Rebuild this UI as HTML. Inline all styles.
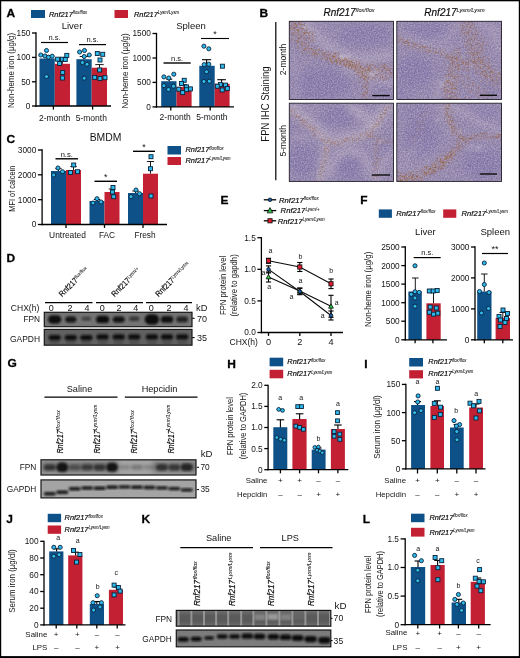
<!DOCTYPE html>
<html lang="en"><head><meta charset="utf-8"><title>Figure</title>
<style>html,body{margin:0;padding:0;background:#fff}svg{display:block}text{font-family:'Liberation Sans', sans-serif;}</style></head>
<body>
<svg style="will-change:transform" width="520" height="658" viewBox="0 0 520 658">
<defs>
<filter id="grain" x="-2%" y="-2%" width="104%" height="104%" color-interpolation-filters="sRGB"><feTurbulence type="fractalNoise" baseFrequency="0.7" numOctaves="2" seed="7" result="n"/><feColorMatrix in="n" type="matrix" values="0 0 0 0 0.42  0 0 0 0 0.35  0 0 0 0 0.56  1.1 0 0 0 -0.42" result="dk"/><feColorMatrix in="n" type="matrix" values="0 0 0 0 0.83  0 0 0 0 0.78  0 0 0 0 0.84  0 1.1 0 0 -0.42" result="lt"/><feMerge><feMergeNode in="SourceGraphic"/><feMergeNode in="dk"/><feMergeNode in="lt"/></feMerge></filter>
<filter id="speck" x="-20%" y="-20%" width="140%" height="140%" color-interpolation-filters="sRGB"><feGaussianBlur in="SourceGraphic" stdDeviation="2.3" result="bl"/><feTurbulence type="fractalNoise" baseFrequency="0.5" numOctaves="2" seed="11" result="nz"/><feColorMatrix in="nz" type="matrix" values="0 0 0 0 1  0 0 0 0 1  0 0 0 0 1  0 0 0 6 -3.05" result="mk"/><feComposite in="bl" in2="mk" operator="in" result="sp"/><feGaussianBlur in="sp" stdDeviation="0.35"/></filter>
<filter id="soft" x="-2%" y="-2%" width="104%" height="104%"><feGaussianBlur stdDeviation="0.7"/></filter>
<filter id="b05" x="-30%" y="-30%" width="160%" height="160%"><feGaussianBlur stdDeviation="0.35"/></filter>
<filter id="b1" x="-30%" y="-30%" width="160%" height="160%"><feGaussianBlur stdDeviation="1.0"/></filter>
<filter id="bb" x="-30%" y="-30%" width="160%" height="160%"><feGaussianBlur stdDeviation="0.8"/></filter>
<filter id="b2" x="-30%" y="-30%" width="160%" height="160%"><feGaussianBlur stdDeviation="2.0"/></filter>
<filter id="b3" x="-30%" y="-30%" width="160%" height="160%"><feGaussianBlur stdDeviation="3.0"/></filter>
<filter id="b4" x="-30%" y="-30%" width="160%" height="160%"><feGaussianBlur stdDeviation="4.5"/></filter>
</defs>
<rect x="0" y="0" width="520" height="658" fill="#ffffff"/>
<text transform="translate(6.5 17.4) scale(1.16 1)" font-size="10.3" text-anchor="start" font-weight="bold" font-style="normal" fill="#000" stroke="#000" stroke-width="0.25">A</text>
<rect x="31" y="10" width="14" height="8" fill="#0e5188"/>
<text transform="translate(49 16.5) scale(0.95 1)" font-size="7.8" text-anchor="start" font-weight="normal" font-style="italic" fill="#0a0a0a" stroke="#0a0a0a" stroke-width="0.18">Rnf217<tspan font-size="4.45" dy="-2.65" stroke-width="0.05">flox/flox</tspan></text>
<rect x="114.5" y="10" width="13.5" height="8" fill="#c32033"/>
<text transform="translate(134 16.5) scale(0.95 1)" font-size="7.8" text-anchor="start" font-weight="normal" font-style="italic" fill="#0a0a0a" stroke="#0a0a0a" stroke-width="0.18">Rnf217<tspan font-size="4.45" dy="-2.65" stroke-width="0.05">Lysm/Lysm</tspan></text>
<text transform="translate(72 29)" font-size="9.5" text-anchor="middle" font-weight="normal" font-style="normal" fill="#141414">Liver</text>
<line x1="36" y1="32.35" x2="36" y2="106.65" stroke="#000000" stroke-width="1.3" stroke-linecap="butt"/>
<line x1="32" y1="33" x2="36" y2="33" stroke="#000000" stroke-width="1.3" stroke-linecap="butt"/>
<text transform="translate(30.4 35.99) scale(1 1)" font-size="8.3" text-anchor="end" font-weight="normal" font-style="normal" fill="#141414">150</text>
<line x1="32" y1="57.4" x2="36" y2="57.4" stroke="#000000" stroke-width="1.3" stroke-linecap="butt"/>
<text transform="translate(30.4 60.39) scale(1 1)" font-size="8.3" text-anchor="end" font-weight="normal" font-style="normal" fill="#141414">100</text>
<line x1="32" y1="81.8" x2="36" y2="81.8" stroke="#000000" stroke-width="1.3" stroke-linecap="butt"/>
<text transform="translate(30.4 84.79) scale(1 1)" font-size="8.3" text-anchor="end" font-weight="normal" font-style="normal" fill="#141414">50</text>
<line x1="32" y1="106" x2="36" y2="106" stroke="#000000" stroke-width="1.3" stroke-linecap="butt"/>
<text transform="translate(30.4 108.99) scale(1 1)" font-size="8.3" text-anchor="end" font-weight="normal" font-style="normal" fill="#141414">0</text>
<text transform="translate(13.5 70.5) rotate(-90) scale(0.92 1)" font-size="8.6" text-anchor="middle" font-weight="normal" font-style="normal" fill="#141414">Non-heme iron (µg/g)</text>
<rect x="39.5" y="58.5" width="15.3" height="47.5" fill="#0e5188"/>
<rect x="54.8" y="63.8" width="15.2" height="42.2" fill="#c32033"/>
<rect x="76.4" y="59.2" width="15.3" height="46.8" fill="#0e5188"/>
<rect x="91.7" y="67.7" width="15.3" height="38.3" fill="#c32033"/>
<line x1="35.35" y1="106" x2="111" y2="106" stroke="#000000" stroke-width="1.3" stroke-linecap="butt"/>
<line x1="53.4" y1="106" x2="53.4" y2="109.6" stroke="#000000" stroke-width="1.3" stroke-linecap="butt"/>
<line x1="92.6" y1="106" x2="92.6" y2="109.6" stroke="#000000" stroke-width="1.3" stroke-linecap="butt"/>
<text transform="translate(54.6 120.9)" font-size="8.5" text-anchor="middle" font-weight="normal" font-style="normal" fill="#141414">2-month</text>
<text transform="translate(91.3 120.9)" font-size="8.5" text-anchor="middle" font-weight="normal" font-style="normal" fill="#141414">5-month</text>
<line x1="47" y1="56" x2="47" y2="58.5" stroke="#000000" stroke-width="0.9" stroke-linecap="butt"/>
<line x1="43.8" y1="56" x2="50.2" y2="56" stroke="#000000" stroke-width="0.9" stroke-linecap="butt"/>
<line x1="62.4" y1="60.5" x2="62.4" y2="63.8" stroke="#000000" stroke-width="0.9" stroke-linecap="butt"/>
<line x1="59.2" y1="60.5" x2="65.6" y2="60.5" stroke="#000000" stroke-width="0.9" stroke-linecap="butt"/>
<line x1="84.2" y1="56.5" x2="84.2" y2="59.2" stroke="#000000" stroke-width="0.9" stroke-linecap="butt"/>
<line x1="79.7" y1="56.5" x2="88.7" y2="56.5" stroke="#000000" stroke-width="0.9" stroke-linecap="butt"/>
<line x1="99.5" y1="64.6" x2="99.5" y2="67.7" stroke="#000000" stroke-width="0.9" stroke-linecap="butt"/>
<line x1="95.3" y1="64.6" x2="103.7" y2="64.6" stroke="#000000" stroke-width="0.9" stroke-linecap="butt"/>
<circle cx="46.5" cy="50.5" r="2.05" fill="#2fb8ea" stroke="#07223a" stroke-width="0.9"/>
<circle cx="40.8" cy="55" r="2.05" fill="#2fb8ea" stroke="#07223a" stroke-width="0.9"/>
<circle cx="45" cy="56" r="2.05" fill="#2fb8ea" stroke="#07223a" stroke-width="0.9"/>
<circle cx="48.5" cy="57.2" r="2.05" fill="#2fb8ea" stroke="#07223a" stroke-width="0.9"/>
<circle cx="52.2" cy="56.2" r="2.05" fill="#2fb8ea" stroke="#07223a" stroke-width="0.9"/>
<circle cx="46.5" cy="76.6" r="2.05" fill="#2fb8ea" stroke="#07223a" stroke-width="0.9"/>
<rect x="64.8" y="53.4" width="4" height="4" fill="#2fb8ea" stroke="#07223a" stroke-width="0.9"/>
<rect x="55.6" y="57.2" width="4" height="4" fill="#2fb8ea" stroke="#07223a" stroke-width="0.9"/>
<rect x="60.4" y="57.2" width="4" height="4" fill="#2fb8ea" stroke="#07223a" stroke-width="0.9"/>
<rect x="63.3" y="57.5" width="4" height="4" fill="#2fb8ea" stroke="#07223a" stroke-width="0.9"/>
<rect x="57.6" y="61.5" width="4" height="4" fill="#2fb8ea" stroke="#07223a" stroke-width="0.9"/>
<rect x="60.7" y="70.6" width="4" height="4" fill="#2fb8ea" stroke="#07223a" stroke-width="0.9"/>
<rect x="60.4" y="76" width="4" height="4" fill="#2fb8ea" stroke="#07223a" stroke-width="0.9"/>
<circle cx="79.6" cy="52" r="2.05" fill="#2fb8ea" stroke="#07223a" stroke-width="0.9"/>
<circle cx="84.5" cy="50.5" r="2.05" fill="#2fb8ea" stroke="#07223a" stroke-width="0.9"/>
<circle cx="89.3" cy="55" r="2.05" fill="#2fb8ea" stroke="#07223a" stroke-width="0.9"/>
<circle cx="84.2" cy="56.5" r="2.05" fill="#2fb8ea" stroke="#07223a" stroke-width="0.9"/>
<circle cx="82.4" cy="62.6" r="2.05" fill="#2fb8ea" stroke="#07223a" stroke-width="0.9"/>
<circle cx="87" cy="64.3" r="2.05" fill="#2fb8ea" stroke="#07223a" stroke-width="0.9"/>
<circle cx="84.2" cy="78.2" r="2.05" fill="#2fb8ea" stroke="#07223a" stroke-width="0.9"/>
<rect x="95.3" y="51.5" width="4" height="4" fill="#2fb8ea" stroke="#07223a" stroke-width="0.9"/>
<rect x="100.7" y="52.3" width="4" height="4" fill="#2fb8ea" stroke="#07223a" stroke-width="0.9"/>
<rect x="98" y="58" width="4" height="4" fill="#2fb8ea" stroke="#07223a" stroke-width="0.9"/>
<rect x="97.6" y="68" width="4" height="4" fill="#2fb8ea" stroke="#07223a" stroke-width="0.9"/>
<rect x="92.7" y="75.4" width="4" height="4" fill="#2fb8ea" stroke="#07223a" stroke-width="0.9"/>
<rect x="98" y="76.5" width="4" height="4" fill="#2fb8ea" stroke="#07223a" stroke-width="0.9"/>
<rect x="103" y="75.7" width="4" height="4" fill="#2fb8ea" stroke="#07223a" stroke-width="0.9"/>
<line x1="41" y1="42.5" x2="68" y2="42.5" stroke="#000000" stroke-width="1.2" stroke-linecap="butt"/>
<text transform="translate(54.5 40.3)" font-size="7.5" text-anchor="middle" font-weight="normal" font-style="normal" fill="#141414">n.s.</text>
<line x1="79" y1="44.6" x2="106" y2="44.6" stroke="#000000" stroke-width="1.2" stroke-linecap="butt"/>
<text transform="translate(92.5 42.4)" font-size="7.5" text-anchor="middle" font-weight="normal" font-style="normal" fill="#141414">n.s.</text>
<text transform="translate(191 29)" font-size="9.5" text-anchor="middle" font-weight="normal" font-style="normal" fill="#141414">Spleen</text>
<line x1="156.5" y1="32.85" x2="156.5" y2="107.55" stroke="#000000" stroke-width="1.3" stroke-linecap="butt"/>
<line x1="152.5" y1="33.5" x2="156.5" y2="33.5" stroke="#000000" stroke-width="1.3" stroke-linecap="butt"/>
<text transform="translate(150.9 36.49) scale(1 1)" font-size="8.3" text-anchor="end" font-weight="normal" font-style="normal" fill="#141414">1500</text>
<line x1="152.5" y1="58" x2="156.5" y2="58" stroke="#000000" stroke-width="1.3" stroke-linecap="butt"/>
<text transform="translate(150.9 60.99) scale(1 1)" font-size="8.3" text-anchor="end" font-weight="normal" font-style="normal" fill="#141414">1000</text>
<line x1="152.5" y1="82.4" x2="156.5" y2="82.4" stroke="#000000" stroke-width="1.3" stroke-linecap="butt"/>
<text transform="translate(150.9 85.39) scale(1 1)" font-size="8.3" text-anchor="end" font-weight="normal" font-style="normal" fill="#141414">500</text>
<line x1="152.5" y1="106.9" x2="156.5" y2="106.9" stroke="#000000" stroke-width="1.3" stroke-linecap="butt"/>
<text transform="translate(150.9 109.89) scale(1 1)" font-size="8.3" text-anchor="end" font-weight="normal" font-style="normal" fill="#141414">0</text>
<text transform="translate(128.3 71) rotate(-90) scale(0.92 1)" font-size="8.6" text-anchor="middle" font-weight="normal" font-style="normal" fill="#141414">Non-heme iron (µg/g)</text>
<rect x="161.2" y="81.2" width="15.3" height="25.7" fill="#0e5188"/>
<rect x="176.5" y="86.9" width="15.1" height="20" fill="#c32033"/>
<rect x="199.3" y="65.8" width="15.4" height="41.1" fill="#0e5188"/>
<rect x="214.7" y="83.8" width="14.9" height="23.1" fill="#c32033"/>
<line x1="155.85" y1="106.9" x2="234" y2="106.9" stroke="#000000" stroke-width="1.3" stroke-linecap="butt"/>
<line x1="170.8" y1="106.9" x2="170.8" y2="110.5" stroke="#000000" stroke-width="1.3" stroke-linecap="butt"/>
<line x1="210.2" y1="106.9" x2="210.2" y2="110.5" stroke="#000000" stroke-width="1.3" stroke-linecap="butt"/>
<text transform="translate(175.2 119.7)" font-size="8.5" text-anchor="middle" font-weight="normal" font-style="normal" fill="#141414">2-month</text>
<text transform="translate(211.9 119.7)" font-size="8.5" text-anchor="middle" font-weight="normal" font-style="normal" fill="#141414">5-month</text>
<line x1="169.2" y1="79.2" x2="169.2" y2="81.2" stroke="#000000" stroke-width="1.1" stroke-linecap="butt"/>
<line x1="166.2" y1="79.2" x2="172.2" y2="79.2" stroke="#000000" stroke-width="1.1" stroke-linecap="butt"/>
<line x1="184" y1="84.8" x2="184" y2="86.9" stroke="#000000" stroke-width="1.1" stroke-linecap="butt"/>
<line x1="181" y1="84.8" x2="187" y2="84.8" stroke="#000000" stroke-width="1.1" stroke-linecap="butt"/>
<line x1="206.6" y1="59.7" x2="206.6" y2="65.8" stroke="#000000" stroke-width="1.1" stroke-linecap="butt"/>
<line x1="202" y1="59.7" x2="211.2" y2="59.7" stroke="#000000" stroke-width="1.1" stroke-linecap="butt"/>
<line x1="221.6" y1="79.7" x2="221.6" y2="83.8" stroke="#000000" stroke-width="1.1" stroke-linecap="butt"/>
<line x1="217.3" y1="79.7" x2="225.9" y2="79.7" stroke="#000000" stroke-width="1.1" stroke-linecap="butt"/>
<circle cx="163.9" cy="76.9" r="2.05" fill="#2fb8ea" stroke="#07223a" stroke-width="0.9"/>
<circle cx="168.8" cy="78" r="2.05" fill="#2fb8ea" stroke="#07223a" stroke-width="0.9"/>
<circle cx="173.8" cy="74.2" r="2.05" fill="#2fb8ea" stroke="#07223a" stroke-width="0.9"/>
<circle cx="163.9" cy="85.7" r="2.05" fill="#2fb8ea" stroke="#07223a" stroke-width="0.9"/>
<circle cx="173.5" cy="86.2" r="2.05" fill="#2fb8ea" stroke="#07223a" stroke-width="0.9"/>
<circle cx="168.5" cy="89.5" r="2.05" fill="#2fb8ea" stroke="#07223a" stroke-width="0.9"/>
<rect x="182.2" y="78.3" width="4" height="4" fill="#2fb8ea" stroke="#07223a" stroke-width="0.9"/>
<rect x="179.5" y="81.5" width="4" height="4" fill="#2fb8ea" stroke="#07223a" stroke-width="0.9"/>
<rect x="184.5" y="84.9" width="4" height="4" fill="#2fb8ea" stroke="#07223a" stroke-width="0.9"/>
<rect x="176.8" y="87.2" width="4" height="4" fill="#2fb8ea" stroke="#07223a" stroke-width="0.9"/>
<rect x="184.5" y="87.7" width="4" height="4" fill="#2fb8ea" stroke="#07223a" stroke-width="0.9"/>
<rect x="188.4" y="86.9" width="4" height="4" fill="#2fb8ea" stroke="#07223a" stroke-width="0.9"/>
<rect x="180.7" y="90.6" width="4" height="4" fill="#2fb8ea" stroke="#07223a" stroke-width="0.9"/>
<circle cx="203.9" cy="46.2" r="2.05" fill="#2fb8ea" stroke="#07223a" stroke-width="0.9"/>
<circle cx="208.8" cy="48.8" r="2.05" fill="#2fb8ea" stroke="#07223a" stroke-width="0.9"/>
<circle cx="204.2" cy="64.6" r="2.05" fill="#2fb8ea" stroke="#07223a" stroke-width="0.9"/>
<circle cx="208.8" cy="64.2" r="2.05" fill="#2fb8ea" stroke="#07223a" stroke-width="0.9"/>
<circle cx="206.5" cy="71.8" r="2.05" fill="#2fb8ea" stroke="#07223a" stroke-width="0.9"/>
<circle cx="203.9" cy="81.5" r="2.05" fill="#2fb8ea" stroke="#07223a" stroke-width="0.9"/>
<circle cx="209.3" cy="81.2" r="2.05" fill="#2fb8ea" stroke="#07223a" stroke-width="0.9"/>
<rect x="220.4" y="64.2" width="4" height="4" fill="#2fb8ea" stroke="#07223a" stroke-width="0.9"/>
<rect x="218.4" y="82.6" width="4" height="4" fill="#2fb8ea" stroke="#07223a" stroke-width="0.9"/>
<rect x="223.5" y="83.1" width="4" height="4" fill="#2fb8ea" stroke="#07223a" stroke-width="0.9"/>
<rect x="215.3" y="84.2" width="4" height="4" fill="#2fb8ea" stroke="#07223a" stroke-width="0.9"/>
<rect x="225.3" y="86.5" width="4" height="4" fill="#2fb8ea" stroke="#07223a" stroke-width="0.9"/>
<rect x="220.2" y="88" width="4" height="4" fill="#2fb8ea" stroke="#07223a" stroke-width="0.9"/>
<line x1="163.5" y1="63" x2="190.7" y2="63" stroke="#000000" stroke-width="1.4" stroke-linecap="butt"/>
<text transform="translate(177.1 60.8)" font-size="7.5" text-anchor="middle" font-weight="normal" font-style="normal" fill="#141414">n.s.</text>
<line x1="201" y1="38.5" x2="229" y2="38.5" stroke="#000000" stroke-width="1.1" stroke-linecap="butt"/>
<text transform="translate(215 37.3)" font-size="9" text-anchor="middle" font-weight="normal" font-style="normal" fill="#141414">*</text>
<text transform="translate(259.5 17.1) scale(1.16 1)" font-size="10.3" text-anchor="start" font-weight="bold" font-style="normal" fill="#000" stroke="#000" stroke-width="0.25">B</text>
<text transform="translate(349 16.3) scale(0.95 1)" font-size="10.5" text-anchor="middle" font-weight="normal" font-style="italic" fill="#0a0a0a" stroke="#0a0a0a" stroke-width="0.18">Rnf217<tspan font-size="5.9" dy="-4.2" stroke-width="0.05">flox/flox</tspan></text>
<text transform="translate(454.5 16.3) scale(0.95 1)" font-size="10.5" text-anchor="middle" font-weight="normal" font-style="italic" fill="#0a0a0a" stroke="#0a0a0a" stroke-width="0.18">Rnf217<tspan font-size="5.9" dy="-4.2" stroke-width="0.05">Lysm/Lysm</tspan></text>
<line x1="275.8" y1="22" x2="275.8" y2="180.3" stroke="#000000" stroke-width="1.2" stroke-linecap="butt"/>
<text transform="translate(268.6 104) rotate(-90) scale(0.95 1)" font-size="10.05" text-anchor="middle" font-weight="normal" font-style="normal" fill="#141414">FPN IHC Staining</text>
<text transform="translate(286.3 59.5) rotate(-90)" font-size="8.6" text-anchor="middle" font-weight="normal" font-style="normal" fill="#141414">2-month</text>
<text transform="translate(286.3 140.8) rotate(-90)" font-size="8.6" text-anchor="middle" font-weight="normal" font-style="normal" fill="#141414">5-month</text>
<clipPath id="hc1"><rect x="289.3" y="21.3" width="104.2" height="78.2"/></clipPath>
<g clip-path="url(#hc1)">
<g filter="url(#soft)">
<g filter="url(#grain)">
<rect x="287.3" y="19.3" width="108.2" height="82.2" fill="#9489ae"/>
<ellipse cx="322" cy="84" rx="28" ry="16" fill="#8378ab" opacity="0.8" filter="url(#b4)"/>
<ellipse cx="365" cy="34" rx="26" ry="12" fill="#8378ab" opacity="0.7" filter="url(#b4)"/>
<ellipse cx="385" cy="92" rx="8" ry="8" fill="#8378ab" opacity="0.6" filter="url(#b4)"/>
<path d="M305 24 L320 40 L342 54 L360 60 L392 55" fill="none" stroke="#c0b6c8" stroke-width="10" stroke-linecap="round" stroke-linejoin="round" opacity="0.48" filter="url(#b3)"/>
<path d="M345 60 L356 58" fill="none" stroke="#c0b6c8" stroke-width="7" stroke-linecap="round" stroke-linejoin="round" opacity="0.48" filter="url(#b3)"/>
<path d="M345 68 L372 77 L392 84" fill="none" stroke="#c0b6c8" stroke-width="8" stroke-linecap="round" stroke-linejoin="round" opacity="0.4" filter="url(#b3)"/>
<path d="M372 77 L372 99" fill="none" stroke="#c0b6c8" stroke-width="7" stroke-linecap="round" stroke-linejoin="round" opacity="0.36" filter="url(#b3)"/>
<path d="M292 60 L300 80 L296 98" fill="none" stroke="#c0b6c8" stroke-width="6" stroke-linecap="round" stroke-linejoin="round" opacity="0.24" filter="url(#b3)"/>
<path d="M291 24 L297.7 39 L305 47 L312.5 52 L333.7 58 L348.5 63.5 L363 68.8 L380 67.7 L392 69" fill="none" stroke="#a98474" stroke-width="7" stroke-linecap="round" stroke-linejoin="round" opacity="0.25" filter="url(#b2)"/>
<path d="M291 24 L297.7 39 L305 47 L312.5 52 L333.7 58 L348.5 63.5 L363 68.8 L380 67.7 L392 69" fill="none" stroke="#98643f" stroke-width="8.05" stroke-linecap="round" stroke-linejoin="round" opacity="0.72" filter="url(#speck)"/>
<path d="M322.12 53.46h1.55v1.55h-1.55zM325.93 56.14h1.67v1.67h-1.67zM296.56 42.12h1.22v1.22h-1.22zM369.02 69.29h1.27v1.27h-1.27zM296.63 29.08h0.9v0.9h-0.9zM300.12 27.05h1.24v1.24h-1.24zM349.86 62.93h1.2v1.2h-1.2zM290.04 24.79h1.31v1.31h-1.31zM301.51 43.91h0.73v0.73h-0.73zM324.35 58.38h1.67v1.67h-1.67zM333.92 55.81h1.22v1.22h-1.22zM349.84 65.14h1.1v1.1h-1.1zM396.72 68.06h1.5v1.5h-1.5zM356.28 68.25h1.26v1.26h-1.26zM314.88 52.49h1.19v1.19h-1.19zM324.3 51.93h1.39v1.39h-1.39zM386.73 68h0.77v0.77h-0.77zM305.64 42.82h1.24v1.24h-1.24zM388.19 68.89h1.11v1.11h-1.11zM348.64 60.53h1.66v1.66h-1.66zM290.57 39.35h1.62v1.62h-1.62zM364.58 69.81h0.97v0.97h-0.97zM300.29 36.33h1.17v1.17h-1.17zM297.38 40.83h0.83v0.83h-0.83zM301.13 41.43h1.13v1.13h-1.13zM352.21 65.62h1.52v1.52h-1.52zM301.86 52.64h1.6v1.6h-1.6zM366.1 73.72h1.18v1.18h-1.18zM298.33 48.45h1.02v1.02h-1.02zM357.28 69.09h0.89v0.89h-0.89zM302.75 50.05h1.32v1.32h-1.32zM314 53.06h1.63v1.63h-1.63zM293 32.24h0.83v0.83h-0.83zM342.89 64.18h1.48v1.48h-1.48zM382.92 68.52h0.72v0.72h-0.72zM376.51 69.08h0.89v0.89h-0.89zM381.67 65.3h0.93v0.93h-0.93zM300.64 35.7h1.39v1.39h-1.39zM307.74 41.67h1.02v1.02h-1.02zM344.4 62.77h1.06v1.06h-1.06zM294.37 27.02h1.32v1.32h-1.32zM356.77 71.94h0.8v0.8h-0.8zM344.16 63.42h1.43v1.43h-1.43zM360.73 67.9h0.82v0.82h-0.82zM343.13 56.89h1.21v1.21h-1.21zM311.26 48.84h0.95v0.95h-0.95zM290.96 28.58h0.9v0.9h-0.9zM294.6 32.51h1.23v1.23h-1.23zM344.03 62.86h1.14v1.14h-1.14zM382.95 66.68h1.08v1.08h-1.08zM353.95 64.82h1.11v1.11h-1.11zM298.63 27.92h1.23v1.23h-1.23zM357.19 66.04h0.86v0.86h-0.86zM344.52 64.06h0.9v0.9h-0.9zM314.52 51.75h1.33v1.33h-1.33zM338.58 53.17h1.34v1.34h-1.34zM358.9 62.37h1.23v1.23h-1.23zM378.48 70.8h1.55v1.55h-1.55zM381.8 64.82h1.31v1.31h-1.31zM369.03 64.79h1.56v1.56h-1.56zM345.15 65.72h0.93v0.93h-0.93zM349.79 64.2h1.44v1.44h-1.44zM393.98 64.84h1.51v1.51h-1.51zM320.77 49.93h1.6v1.6h-1.6zM328.04 54.78h1.02v1.02h-1.02zM365.99 68.87h1.01v1.01h-1.01zM332.27 61.46h1.62v1.62h-1.62zM328.81 53.33h0.92v0.92h-0.92zM309.26 48.05h1.7v1.7h-1.7zM354.22 66.64h1.59v1.59h-1.59zM378.73 64.64h0.83v0.83h-0.83zM376.69 71.21h0.94v0.94h-0.94zM296.86 45.83h1.43v1.43h-1.43zM383.56 65.4h0.96v0.96h-0.96zM342.84 62.87h0.8v0.8h-0.8zM336.53 52.46h1.53v1.53h-1.53zM359.89 65.72h1.12v1.12h-1.12zM297.11 41.68h1.49v1.49h-1.49zM299.73 47.38h0.83v0.83h-0.83zM331.13 62.81h1.1v1.1h-1.1zM388.06 68.43h1.39v1.39h-1.39zM292.77 26.43h0.72v0.72h-0.72zM355.09 65.37h0.9v0.9h-0.9zM368.28 68.02h1.38v1.38h-1.38zM334.29 56.88h1.61v1.61h-1.61zM305.51 47.39h1.67v1.67h-1.67zM344.62 64.68h0.82v0.82h-0.82zM353.97 57.06h1.21v1.21h-1.21zM355.52 68.45h1.46v1.46h-1.46zM303.7 42.15h1.2v1.2h-1.2zM358.83 68.62h1.39v1.39h-1.39zM315.44 49.41h0.89v0.89h-0.89zM347.11 59.7h0.77v0.77h-0.77zM368.07 67.4h0.81v0.81h-0.81zM383.41 66.21h0.74v0.74h-0.74zM324.11 51.48h1.25v1.25h-1.25zM314.4 51.1h1.21v1.21h-1.21zM370.5 66.69h1.27v1.27h-1.27zM352.4 68.78h0.85v0.85h-0.85zM367.09 64.16h0.88v0.88h-0.88zM310.04 40.16h0.9v0.9h-0.9zM383.4 66.72h1.54v1.54h-1.54zM318.31 48.46h1.69v1.69h-1.69zM319.38 54.18h1.63v1.63h-1.63zM340.24 56.59h0.8v0.8h-0.8zM292.39 25.68h0.76v0.76h-0.76zM368.79 70.03h1.65v1.65h-1.65zM367.43 69.28h1.16v1.16h-1.16zM334.81 52.64h1.46v1.46h-1.46zM358.5 64.46h1.03v1.03h-1.03zM387.24 68.86h1.17v1.17h-1.17zM335.8 63.54h1.22v1.22h-1.22zM343.81 62.69h1.13v1.13h-1.13zM339.56 62.9h1.3v1.3h-1.3zM375.03 66.55h0.71v0.71h-0.71z" fill="#93603c" opacity="0.56" filter="url(#b05)"/>
<path d="M363 69 L366 80 L365.4 88 L367.5 99" fill="none" stroke="#a98474" stroke-width="5" stroke-linecap="round" stroke-linejoin="round" opacity="0.21" filter="url(#b2)"/>
<path d="M363 69 L366 80 L365.4 88 L367.5 99" fill="none" stroke="#98643f" stroke-width="5.75" stroke-linecap="round" stroke-linejoin="round" opacity="0.59" filter="url(#speck)"/>
<path d="M365.98 88.1h1.3v1.3h-1.3zM364.92 79.32h1.46v1.46h-1.46zM365.66 76.87h0.75v0.75h-0.75zM365.69 65.96h1.63v1.63h-1.63zM367.54 87.09h0.86v0.86h-0.86zM363.04 78.73h1.17v1.17h-1.17zM367.59 96.3h0.87v0.87h-0.87zM366.25 91.57h1.2v1.2h-1.2zM361.54 95.63h1.31v1.31h-1.31zM365.04 91.15h0.76v0.76h-0.76zM362.14 93.26h1.65v1.65h-1.65zM361.54 72.79h1.12v1.12h-1.12zM360.36 71.4h1.23v1.23h-1.23zM365.42 92.78h1.3v1.3h-1.3zM363.2 91.42h1.07v1.07h-1.07zM362.72 85.04h0.99v0.99h-0.99zM364.48 95.41h1.36v1.36h-1.36zM366.01 91.14h1.26v1.26h-1.26zM364.82 85.09h0.98v0.98h-0.98zM366.73 80.68h1.42v1.42h-1.42zM366.98 80.66h1v1h-1zM363.88 94.92h0.71v0.71h-0.71zM359.71 94.3h0.95v0.95h-0.95zM365.4 86.85h0.74v0.74h-0.74z" fill="#93603c" opacity="0.45" filter="url(#b05)"/>
<path d="M296 25 L304 31 L311 38" fill="none" stroke="#a98474" stroke-width="9" stroke-linecap="round" stroke-linejoin="round" opacity="0.21" filter="url(#b2)"/>
<path d="M296 25 L304 31 L311 38" fill="none" stroke="#98643f" stroke-width="10.35" stroke-linecap="round" stroke-linejoin="round" opacity="0.68" filter="url(#speck)"/>
<path d="M297.81 22.5h1.58v1.58h-1.58zM309.16 35.01h0.78v0.78h-0.78zM311.77 36.97h0.78v0.78h-0.78zM305.33 37.8h1.26v1.26h-1.26zM310.2 41.41h1.18v1.18h-1.18zM308.73 32.44h1.39v1.39h-1.39zM312.2 32.73h1v1h-1zM294.27 22.84h1.48v1.48h-1.48zM303.03 28.46h0.78v0.78h-0.78zM292.52 27.91h0.91v0.91h-0.91zM302.21 34.5h1.36v1.36h-1.36zM303.06 25.26h0.78v0.78h-0.78zM316.07 35.75h1v1h-1zM304.82 32.12h1.42v1.42h-1.42zM304.87 31.87h1.39v1.39h-1.39zM297.99 23.49h0.98v0.98h-0.98zM300.8 27.36h0.84v0.84h-0.84zM298.56 36.79h1.06v1.06h-1.06zM309.84 35.4h1.43v1.43h-1.43zM295.94 28.95h1.07v1.07h-1.07zM308.89 34.99h0.82v0.82h-0.82zM301.08 27.96h1.41v1.41h-1.41zM301.68 28.49h1.27v1.27h-1.27zM303.62 33.11h1.62v1.62h-1.62zM307.34 32.39h1.64v1.64h-1.64zM298.93 20.93h1.61v1.61h-1.61zM308.04 37.86h1.14v1.14h-1.14zM300.63 24.12h1.5v1.5h-1.5zM308.81 32.41h1v1h-1zM303.94 23.03h1.02v1.02h-1.02zM301.15 30.75h1.1v1.1h-1.1z" fill="#93603c" opacity="0.52" filter="url(#b05)"/>
<path d="M352 64 L362 74 L378 77 L390 76" fill="none" stroke="#a98474" stroke-width="8" stroke-linecap="round" stroke-linejoin="round" opacity="0.15" filter="url(#b2)"/>
<path d="M352 64 L362 74 L378 77 L390 76" fill="none" stroke="#98643f" stroke-width="9.2" stroke-linecap="round" stroke-linejoin="round" opacity="0.68" filter="url(#speck)"/>
<path d="M388.89 74.07h0.97v0.97h-0.97zM360.08 75.94h1.69v1.69h-1.69zM362.13 75.35h1.36v1.36h-1.36zM372.47 71.04h0.94v0.94h-0.94zM380.65 75.36h0.71v0.71h-0.71zM381.36 74.27h1.17v1.17h-1.17zM347.64 63.69h1.07v1.07h-1.07zM376.14 73.99h1.5v1.5h-1.5zM385.18 77.76h1.41v1.41h-1.41zM381.66 76.84h1.31v1.31h-1.31zM379.66 75.6h0.86v0.86h-0.86zM377.82 80.61h0.86v0.86h-0.86zM374.75 78.5h1.02v1.02h-1.02zM373.52 75.52h0.96v0.96h-0.96zM358.82 81.75h1.57v1.57h-1.57zM371.09 76.23h1.22v1.22h-1.22zM375.44 68.6h1.34v1.34h-1.34zM366.85 69.02h1.69v1.69h-1.69zM385.66 69.63h0.97v0.97h-0.97zM389.64 74.43h1.23v1.23h-1.23zM367.93 68.79h0.85v0.85h-0.85zM363.18 74.93h1.47v1.47h-1.47zM382.19 76.36h0.7v0.7h-0.7zM357.34 71.91h1.52v1.52h-1.52zM361.23 71.76h1.55v1.55h-1.55zM364.41 75.94h1.52v1.52h-1.52zM380.68 77.57h0.78v0.78h-0.78zM359.95 70.52h0.97v0.97h-0.97zM354.17 65.83h1.42v1.42h-1.42zM358.65 75.83h0.8v0.8h-0.8zM372.71 77.73h1.18v1.18h-1.18zM362.69 77.21h1.17v1.17h-1.17zM354.2 70.55h1.66v1.66h-1.66zM366.97 82.01h1.29v1.29h-1.29zM383.11 79.32h1.56v1.56h-1.56zM385.15 75.93h1v1h-1zM358.87 62.65h1.49v1.49h-1.49zM359.34 73.1h1.12v1.12h-1.12z" fill="#93603c" opacity="0.52" filter="url(#b05)"/>
<path d="M330 57 L345 62 L356 66" fill="none" stroke="#a98474" stroke-width="6" stroke-linecap="round" stroke-linejoin="round" opacity="0.24" filter="url(#b2)"/>
<path d="M330 57 L345 62 L356 66" fill="none" stroke="#98643f" stroke-width="6.9" stroke-linecap="round" stroke-linejoin="round" opacity="0.9" filter="url(#speck)"/>
<path d="M356.69 66.82h1.25v1.25h-1.25zM332.33 57.56h1.05v1.05h-1.05zM334.45 56.12h1.2v1.2h-1.2zM339.36 60.15h0.84v0.84h-0.84zM341.04 58.33h1.41v1.41h-1.41zM348.8 63.57h1.69v1.69h-1.69zM345.5 59.56h1.22v1.22h-1.22zM348.48 62.2h1.42v1.42h-1.42zM347.96 65.33h1.54v1.54h-1.54zM348.3 60.98h0.9v0.9h-0.9zM350.81 66.22h1.64v1.64h-1.64zM334.97 60.79h1.33v1.33h-1.33zM336.19 61.02h0.9v0.9h-0.9zM346.93 63.94h0.78v0.78h-0.78zM346.05 67.66h0.94v0.94h-0.94zM343.73 59.31h1.28v1.28h-1.28zM351.84 64.34h1.4v1.4h-1.4zM330.43 54.2h1.03v1.03h-1.03zM330.46 60.16h1.63v1.63h-1.63zM346.27 62.49h1.06v1.06h-1.06zM335.12 59.37h1.16v1.16h-1.16zM333.52 56.11h0.82v0.82h-0.82zM340.26 57.62h1.67v1.67h-1.67zM349.47 65.2h0.84v0.84h-0.84zM342.17 60h1.6v1.6h-1.6zM351.48 62.12h1.24v1.24h-1.24zM346.25 61.91h1.26v1.26h-1.26zM336.26 61.92h1.26v1.26h-1.26zM330.41 59.27h0.96v0.96h-0.96zM351.1 60.51h1.61v1.61h-1.61zM333.78 52.81h1.69v1.69h-1.69z" fill="#93603c" opacity="0.7" filter="url(#b05)"/>
<ellipse cx="342.5" cy="57" rx="3.2" ry="2" fill="#d6cfdc" opacity="0.85" filter="url(#b1)"/>
<ellipse cx="348" cy="55.5" rx="2.2" ry="1.6" fill="#d6cfdc" opacity="0.7" filter="url(#b1)"/>
<ellipse cx="371.5" cy="74" rx="3" ry="1.8" fill="#d6cfdc" opacity="0.75" filter="url(#b1)"/>
<ellipse cx="377" cy="71.5" rx="2" ry="1.4" fill="#d6cfdc" opacity="0.6" filter="url(#b1)"/>
<ellipse cx="306" cy="27.5" rx="4.5" ry="0.9" fill="#d6cfdc" opacity="0.6" filter="url(#b1)"/>
</g>
</g>
</g>
<rect x="289.3" y="21.3" width="104.2" height="78.2" fill="none" stroke="#221c28" stroke-width="0.9"/>
<line x1="372.2" y1="95.6" x2="389.8" y2="95.6" stroke="#0c0c0c" stroke-width="1.4" stroke-linecap="butt"/>
<clipPath id="hc2"><rect x="396.8" y="21.3" width="104.7" height="78.2"/></clipPath>
<g clip-path="url(#hc2)">
<g filter="url(#soft)">
<g filter="url(#grain)">
<rect x="394.8" y="19.3" width="108.7" height="82.2" fill="#9489ae"/>
<ellipse cx="415" cy="72" rx="18" ry="16" fill="#8378ab" opacity="0.8" filter="url(#b4)"/>
<ellipse cx="426" cy="30" rx="22" ry="8" fill="#8378ab" opacity="0.7" filter="url(#b4)"/>
<ellipse cx="491" cy="89" rx="10" ry="8" fill="#8378ab" opacity="0.6" filter="url(#b4)"/>
<ellipse cx="400" cy="92" rx="10" ry="8" fill="#8378ab" opacity="0.5" filter="url(#b4)"/>
<path d="M398 35 L425 43 L450 52" fill="none" stroke="#c0b6c8" stroke-width="7" stroke-linecap="round" stroke-linejoin="round" opacity="0.32" filter="url(#b3)"/>
<path d="M436 99 L440 86 L452 80" fill="none" stroke="#c0b6c8" stroke-width="6" stroke-linecap="round" stroke-linejoin="round" opacity="0.4" filter="url(#b3)"/>
<path d="M480 22 L495 32 L501 50" fill="none" stroke="#c0b6c8" stroke-width="9" stroke-linecap="round" stroke-linejoin="round" opacity="0.32" filter="url(#b3)"/>
<path d="M440 40 L455 30 L460 22" fill="none" stroke="#c0b6c8" stroke-width="6" stroke-linecap="round" stroke-linejoin="round" opacity="0.24" filter="url(#b3)"/>
<path d="M398.2 39.2 L415 46.6 L432 50.8 L442.7 52.9 L452 58" fill="none" stroke="#a98474" stroke-width="4" stroke-linecap="round" stroke-linejoin="round" opacity="0.24" filter="url(#b2)"/>
<path d="M398.2 39.2 L415 46.6 L432 50.8 L442.7 52.9 L452 58" fill="none" stroke="#98643f" stroke-width="4.6" stroke-linecap="round" stroke-linejoin="round" opacity="0.68" filter="url(#speck)"/>
<path d="M421.48 45.92h1.66v1.66h-1.66zM406.5 41.87h1.46v1.46h-1.46zM412.94 42.7h1.12v1.12h-1.12zM427.84 48.99h1.29v1.29h-1.29zM404.14 42.11h1.6v1.6h-1.6zM449.28 55.73h1.49v1.49h-1.49zM400.92 38.95h1.28v1.28h-1.28zM419.36 46.98h1.05v1.05h-1.05zM402.5 39.1h1.07v1.07h-1.07zM406.12 40.27h1.44v1.44h-1.44zM402.71 41.57h1.26v1.26h-1.26zM413.56 45.41h0.72v0.72h-0.72zM436.26 51.2h1.41v1.41h-1.41zM440.57 53.09h1.6v1.6h-1.6zM428.07 49.88h1.5v1.5h-1.5zM398.38 34.97h1.6v1.6h-1.6zM449.23 55.25h1.61v1.61h-1.61zM415.91 44.35h1.23v1.23h-1.23zM403.58 42.6h1.49v1.49h-1.49zM425.82 46.94h1.08v1.08h-1.08zM400.03 37.93h0.8v0.8h-0.8zM425.86 50.48h1.05v1.05h-1.05zM418.4 46.3h1.01v1.01h-1.01zM428.08 51.17h1.63v1.63h-1.63zM399.2 40.81h1.39v1.39h-1.39zM433.72 50.88h1.24v1.24h-1.24zM408.14 45.15h1.32v1.32h-1.32zM445.54 56.92h0.82v0.82h-0.82zM407.74 41.76h1.23v1.23h-1.23zM407.4 39.35h1.4v1.4h-1.4zM397.69 41.54h1.09v1.09h-1.09zM415.76 46.64h0.95v0.95h-0.95zM396.38 36.45h1.11v1.11h-1.11zM451.06 57.44h1.02v1.02h-1.02zM415.15 43h1.39v1.39h-1.39zM432.64 52.48h0.84v0.84h-0.84zM422.5 47.48h0.79v0.79h-0.79zM449.56 55.44h1.01v1.01h-1.01zM413.7 44.32h1.4v1.4h-1.4zM445.99 55.49h1.46v1.46h-1.46zM436.09 52.28h1.36v1.36h-1.36zM409.77 42.03h1.63v1.63h-1.63zM405.85 40.62h1.07v1.07h-1.07zM406.41 46.18h0.73v0.73h-0.73zM425.23 46.77h1.19v1.19h-1.19z" fill="#93603c" opacity="0.52" filter="url(#b05)"/>
<path d="M466 23 L474.4 43.4 L478.6 60.3 L487 73 L497 80" fill="none" stroke="#a98474" stroke-width="14" stroke-linecap="round" stroke-linejoin="round" opacity="0.17" filter="url(#b2)"/>
<path d="M466 23 L474.4 43.4 L478.6 60.3 L487 73 L497 80" fill="none" stroke="#98643f" stroke-width="16.1" stroke-linecap="round" stroke-linejoin="round" opacity="0.63" filter="url(#speck)"/>
<path d="M479.65 58.78h1.47v1.47h-1.47zM474.38 49.3h1.25v1.25h-1.25zM499.31 77.4h1.49v1.49h-1.49zM474.73 46.42h0.96v0.96h-0.96zM477.69 32.28h1.23v1.23h-1.23zM485.59 71.72h1.61v1.61h-1.61zM481.52 56.71h0.81v0.81h-0.81zM483.35 41.47h1.32v1.32h-1.32zM460.66 34.03h0.89v0.89h-0.89zM470.25 38.39h1.54v1.54h-1.54zM485.45 74.91h1.54v1.54h-1.54zM473.42 38.36h1.34v1.34h-1.34zM473.01 58.15h1.14v1.14h-1.14zM470.34 39.1h0.72v0.72h-0.72zM483.06 41.32h1.19v1.19h-1.19zM480.83 36.71h1.06v1.06h-1.06zM484.49 36.78h1.1v1.1h-1.1zM480.33 49.08h0.78v0.78h-0.78zM478.73 65.98h1.62v1.62h-1.62zM471.37 44.73h1.22v1.22h-1.22zM470.35 52.17h1.26v1.26h-1.26zM476.15 43.45h1.54v1.54h-1.54zM469.92 52.18h1.6v1.6h-1.6zM488.56 59.34h1.25v1.25h-1.25zM492.1 69h1.24v1.24h-1.24zM481.96 70.92h1.55v1.55h-1.55zM491.31 70.41h1.07v1.07h-1.07zM495.13 75.45h1.6v1.6h-1.6zM467.82 26.85h0.72v0.72h-0.72zM481.28 70.62h1.5v1.5h-1.5zM465.16 45.75h1.23v1.23h-1.23zM486.47 66.5h1.32v1.32h-1.32zM469.34 58.5h1.69v1.69h-1.69zM482.83 55.95h0.92v0.92h-0.92zM470.71 64.17h1.11v1.11h-1.11zM467.86 50.46h1.5v1.5h-1.5zM479.86 81.11h1.45v1.45h-1.45zM482.52 45.45h1.22v1.22h-1.22zM491.04 71.34h1.48v1.48h-1.48zM466.45 40.84h1.38v1.38h-1.38zM489 74.73h1.57v1.57h-1.57zM469.99 30.13h1.35v1.35h-1.35zM465.69 26.17h1.06v1.06h-1.06zM469.02 53.9h0.99v0.99h-0.99zM494.12 62.21h0.78v0.78h-0.78zM468.35 39.02h0.82v0.82h-0.82zM479.32 63.02h0.74v0.74h-0.74zM469.62 47.14h1.68v1.68h-1.68zM479.32 42.16h0.84v0.84h-0.84zM504.79 76.61h1.3v1.3h-1.3zM489.39 81.19h0.83v0.83h-0.83zM484.16 70.54h1.67v1.67h-1.67zM466.71 30.55h1.23v1.23h-1.23zM488.38 58.01h0.88v0.88h-0.88zM464.27 52.05h1.53v1.53h-1.53zM491.39 79.22h1.56v1.56h-1.56zM473.03 60h1.68v1.68h-1.68zM464.68 42.7h0.92v0.92h-0.92zM453.17 26.22h1.1v1.1h-1.1zM483.55 75.03h1.36v1.36h-1.36zM467.37 19.68h0.98v0.98h-0.98zM461.41 30.46h1.27v1.27h-1.27zM473.65 62.64h1.4v1.4h-1.4zM479.9 44.22h1.45v1.45h-1.45zM472.55 54.85h1.52v1.52h-1.52zM476.41 52.73h1.45v1.45h-1.45zM465.51 57.74h0.99v0.99h-0.99zM468.13 48.91h1.46v1.46h-1.46zM465.58 46.29h1.13v1.13h-1.13zM466.02 24.48h0.87v0.87h-0.87zM479.22 19.86h0.72v0.72h-0.72zM484.33 70.46h1.32v1.32h-1.32zM475.24 35.98h1.06v1.06h-1.06zM464.62 27.68h0.79v0.79h-0.79zM461.71 61.87h1.19v1.19h-1.19zM481.9 48.7h1.11v1.11h-1.11zM469.54 59.66h1.03v1.03h-1.03zM484.47 76.6h1.27v1.27h-1.27zM473.44 67.2h1.24v1.24h-1.24zM477.6 55.21h1.23v1.23h-1.23zM486.47 43.23h1.69v1.69h-1.69zM472.06 81.46h1.6v1.6h-1.6zM498.33 85.84h1v1h-1zM473.11 53.16h1.57v1.57h-1.57zM477.23 49.02h1.02v1.02h-1.02zM466.81 32.99h1.64v1.64h-1.64zM471.85 24.63h0.76v0.76h-0.76zM464.33 44.34h1.02v1.02h-1.02zM470.68 44h1.63v1.63h-1.63zM498.62 72.54h1.36v1.36h-1.36zM479.67 58.36h1.41v1.41h-1.41z" fill="#93603c" opacity="0.49" filter="url(#b05)"/>
<path d="M457.5 56 L453 77 L447 90 L452 98" fill="none" stroke="#a98474" stroke-width="13" stroke-linecap="round" stroke-linejoin="round" opacity="0.17" filter="url(#b2)"/>
<path d="M457.5 56 L453 77 L447 90 L452 98" fill="none" stroke="#98643f" stroke-width="14.95" stroke-linecap="round" stroke-linejoin="round" opacity="0.63" filter="url(#speck)"/>
<path d="M465.72 74.75h1.64v1.64h-1.64zM459.02 63.86h1.47v1.47h-1.47zM437.88 71.1h1.03v1.03h-1.03zM434.32 93.87h1.42v1.42h-1.42zM468.43 74.37h0.93v0.93h-0.93zM444.89 87.05h1.18v1.18h-1.18zM455.39 66.6h1.23v1.23h-1.23zM443.23 61.11h1.43v1.43h-1.43zM441.05 94.21h0.77v0.77h-0.77zM454.18 67h0.85v0.85h-0.85zM456.3 89.53h0.88v0.88h-0.88zM453.46 86.99h1.32v1.32h-1.32zM455.1 78.68h0.87v0.87h-0.87zM456.74 81.06h1.26v1.26h-1.26zM462.68 69.02h1.58v1.58h-1.58zM446.17 80.57h1.13v1.13h-1.13zM468.06 61.33h0.92v0.92h-0.92zM447.06 80.84h1.3v1.3h-1.3zM453.83 83.79h1.11v1.11h-1.11zM452.41 84.87h1.14v1.14h-1.14zM435.18 88.26h0.88v0.88h-0.88zM467.33 69.83h1.38v1.38h-1.38zM447.28 74.81h1.04v1.04h-1.04zM462.2 60.75h1.69v1.69h-1.69zM452.14 97.75h1.2v1.2h-1.2zM451.08 91.25h1.38v1.38h-1.38zM457.36 68.42h1.62v1.62h-1.62zM465.74 63.21h1.68v1.68h-1.68zM447.38 85.42h0.72v0.72h-0.72zM449.97 93.58h1.63v1.63h-1.63zM455.45 71.94h0.8v0.8h-0.8zM456.73 57.51h1.65v1.65h-1.65zM450.55 90.82h1.49v1.49h-1.49zM442.5 69.77h0.96v0.96h-0.96zM444.95 90.58h1.42v1.42h-1.42zM452.2 73.37h1.26v1.26h-1.26zM454.75 95.06h1.15v1.15h-1.15zM451.81 97.8h1.33v1.33h-1.33zM458 64.17h1.16v1.16h-1.16zM454.1 92.41h1.36v1.36h-1.36zM447.03 57.22h1.4v1.4h-1.4zM432.75 99.78h0.71v0.71h-0.71zM465.61 69.16h1.34v1.34h-1.34zM455.04 100.2h1.4v1.4h-1.4zM451.5 82.26h1.57v1.57h-1.57zM446.29 88.51h1.24v1.24h-1.24zM460.39 59.34h1.24v1.24h-1.24zM444.83 84.19h0.84v0.84h-0.84zM442.31 100.12h0.9v0.9h-0.9zM447.85 81.11h1.6v1.6h-1.6zM452.54 98.78h0.76v0.76h-0.76zM447.79 73.72h1.6v1.6h-1.6zM451.25 78.64h0.82v0.82h-0.82zM460.17 53.81h1.08v1.08h-1.08zM449.47 81.45h1.32v1.32h-1.32zM456.95 65h0.73v0.73h-0.73zM442.79 48.63h1.15v1.15h-1.15zM451.23 56.83h1.5v1.5h-1.5zM452.43 71.55h1.08v1.08h-1.08zM452.83 76.4h0.88v0.88h-0.88zM464.43 57.41h0.76v0.76h-0.76zM454.61 87.48h1.65v1.65h-1.65zM468.34 76.54h0.8v0.8h-0.8zM447.78 81.63h1.37v1.37h-1.37zM443.83 88.78h1.34v1.34h-1.34zM463.22 63.12h0.98v0.98h-0.98zM464.74 64.26h1.26v1.26h-1.26zM450.24 71.33h1.39v1.39h-1.39zM449.02 63.53h0.91v0.91h-0.91zM459.07 69.03h0.94v0.94h-0.94zM461.9 62.78h1.62v1.62h-1.62zM455.55 47.61h0.91v0.91h-0.91zM451.48 84.79h1.19v1.19h-1.19zM450.93 75.26h1.15v1.15h-1.15zM464.48 96.22h1.48v1.48h-1.48zM450.52 84.27h1.56v1.56h-1.56zM458.86 90.83h1.46v1.46h-1.46zM446.24 75.13h1.33v1.33h-1.33zM441.2 88.18h1.24v1.24h-1.24zM447.74 67.77h0.79v0.79h-0.79z" fill="#93603c" opacity="0.49" filter="url(#b05)"/>
<path d="M455 60 L470 66 L480 62" fill="none" stroke="#a98474" stroke-width="10" stroke-linecap="round" stroke-linejoin="round" opacity="0.13" filter="url(#b2)"/>
<path d="M455 60 L470 66 L480 62" fill="none" stroke="#98643f" stroke-width="11.5" stroke-linecap="round" stroke-linejoin="round" opacity="0.54" filter="url(#speck)"/>
<path d="M460.91 68.39h1.57v1.57h-1.57zM467.46 66.7h0.96v0.96h-0.96zM467.94 63.44h0.83v0.83h-0.83zM456.69 64.01h0.85v0.85h-0.85zM475.16 72.25h1.58v1.58h-1.58zM466.22 62.57h1.52v1.52h-1.52zM460.24 58.46h0.9v0.9h-0.9zM466.11 58.34h1.44v1.44h-1.44zM464.84 61.28h0.9v0.9h-0.9zM470.78 61.64h1.32v1.32h-1.32zM470.5 64.99h0.71v0.71h-0.71zM465.42 62.01h1.28v1.28h-1.28zM476.16 69.69h1.45v1.45h-1.45zM473.95 59.53h1.2v1.2h-1.2zM460.73 56.68h1.33v1.33h-1.33zM472.96 52.14h0.82v0.82h-0.82zM452.86 61.68h1.16v1.16h-1.16zM466.64 69.37h1.48v1.48h-1.48zM466.89 67.65h1.07v1.07h-1.07zM474.37 67.3h1.44v1.44h-1.44zM460.23 56.35h1.3v1.3h-1.3zM458.77 47.9h1.51v1.51h-1.51zM456.52 57.33h1.44v1.44h-1.44zM474.06 55.04h1v1h-1zM475.83 71.88h1.52v1.52h-1.52zM445.93 54.25h1.52v1.52h-1.52zM453.7 63.04h1.13v1.13h-1.13zM468.13 69.47h1.42v1.42h-1.42zM476.19 59.46h1.11v1.11h-1.11zM475.41 59.13h1.28v1.28h-1.28zM476.46 66.66h1.02v1.02h-1.02z" fill="#93603c" opacity="0.42" filter="url(#b05)"/>
<path d="M462 80 L475 88 L488 96" fill="none" stroke="#a98474" stroke-width="9" stroke-linecap="round" stroke-linejoin="round" opacity="0.09" filter="url(#b2)"/>
<path d="M462 80 L475 88 L488 96" fill="none" stroke="#98643f" stroke-width="10.35" stroke-linecap="round" stroke-linejoin="round" opacity="0.41" filter="url(#speck)"/>
<path d="M469.45 96.53h1.52v1.52h-1.52zM472.71 85.19h1.27v1.27h-1.27zM476.63 93.1h1.48v1.48h-1.48zM469.43 91.29h1.65v1.65h-1.65zM459.78 74.66h0.82v0.82h-0.82zM477.73 96.29h1.46v1.46h-1.46zM476.4 91.09h1.6v1.6h-1.6zM478.41 99.12h1.11v1.11h-1.11zM479.26 95.99h1.04v1.04h-1.04zM464.91 87.33h0.73v0.73h-0.73zM472.67 99.02h1.6v1.6h-1.6zM475.82 89.43h0.91v0.91h-0.91zM470.44 91.01h0.71v0.71h-0.71zM477.96 91.72h0.79v0.79h-0.79zM473.41 83.59h1.22v1.22h-1.22zM468.86 77.8h1.38v1.38h-1.38zM477.3 86.1h1.61v1.61h-1.61zM467.88 90.54h1.36v1.36h-1.36zM467.67 86.79h0.8v0.8h-0.8zM472.14 99h1.63v1.63h-1.63zM483.13 88.09h1.57v1.57h-1.57z" fill="#93603c" opacity="0.32" filter="url(#b05)"/>
<ellipse cx="441" cy="84" rx="2.5" ry="1.5" fill="#d6cfdc" opacity="0.5" filter="url(#b1)"/>
<ellipse cx="463" cy="57" rx="2.2" ry="1.5" fill="#d6cfdc" opacity="0.5" filter="url(#b1)"/>
<ellipse cx="471" cy="66" rx="2" ry="1.4" fill="#d6cfdc" opacity="0.45" filter="url(#b1)"/>
</g>
</g>
</g>
<rect x="396.8" y="21.3" width="104.7" height="78.2" fill="none" stroke="#221c28" stroke-width="0.9"/>
<line x1="479.8" y1="95.3" x2="497" y2="95.3" stroke="#0c0c0c" stroke-width="1.4" stroke-linecap="butt"/>
<clipPath id="hc3"><rect x="289.3" y="103.2" width="104.2" height="78.2"/></clipPath>
<g clip-path="url(#hc3)">
<g filter="url(#soft)">
<g filter="url(#grain)">
<rect x="287.3" y="101.2" width="108.2" height="82.2" fill="#9489ae"/>
<ellipse cx="349.5" cy="169" rx="12" ry="11" fill="#8378ab" opacity="0.95" filter="url(#b4)"/>
<ellipse cx="302" cy="160" rx="14" ry="17" fill="#8378ab" opacity="0.8" filter="url(#b4)"/>
<ellipse cx="338" cy="117" rx="19" ry="9" fill="#8378ab" opacity="0.8" filter="url(#b4)"/>
<ellipse cx="388" cy="148" rx="7" ry="9" fill="#8378ab" opacity="0.65" filter="url(#b4)"/>
<ellipse cx="294" cy="126" rx="5" ry="6" fill="#8378ab" opacity="0.4" filter="url(#b4)"/>
<path d="M290 106 L306 120 L323 135 L333.7 141 L354.8 137 L369.6 131 L380 117 L390 104" fill="none" stroke="#c0b6c8" stroke-width="11" stroke-linecap="round" stroke-linejoin="round" opacity="0.64" filter="url(#b3)"/>
<path d="M327.3 144.4 L325 159 L321 172 L318.8 182" fill="none" stroke="#c0b6c8" stroke-width="9" stroke-linecap="round" stroke-linejoin="round" opacity="0.6" filter="url(#b3)"/>
<path d="M330 174 L332 162 L340 153 L350 150 L360 153 L367 162 L369 172" fill="none" stroke="#c0b6c8" stroke-width="5" stroke-linecap="round" stroke-linejoin="round" opacity="0.68" filter="url(#b3)"/>
<path d="M352 108 L362 115 L374 124" fill="none" stroke="#c0b6c8" stroke-width="10" stroke-linecap="round" stroke-linejoin="round" opacity="0.56" filter="url(#b3)"/>
<path d="M374 181 L382 165 L393 150" fill="none" stroke="#c0b6c8" stroke-width="7" stroke-linecap="round" stroke-linejoin="round" opacity="0.44" filter="url(#b3)"/>
<path d="M291 140 L300 136 L310 140" fill="none" stroke="#c0b6c8" stroke-width="5" stroke-linecap="round" stroke-linejoin="round" opacity="0.32" filter="url(#b3)"/>
<path d="M290.3 110.6 L306 123.3 L323 138 L333.7 143.4 L354.8 139 L369.6 133.8 L380 119 L388.7 106.3" fill="none" stroke="#a98474" stroke-width="4.5" stroke-linecap="round" stroke-linejoin="round" opacity="0.2" filter="url(#b2)"/>
<path d="M290.3 110.6 L306 123.3 L323 138 L333.7 143.4 L354.8 139 L369.6 133.8 L380 119 L388.7 106.3" fill="none" stroke="#98643f" stroke-width="5.17" stroke-linecap="round" stroke-linejoin="round" opacity="0.54" filter="url(#speck)"/>
<path d="M313.29 127.74h1.6v1.6h-1.6zM377.94 122.57h1.24v1.24h-1.24zM304.7 124.97h0.89v0.89h-0.89zM301.09 120.06h1.08v1.08h-1.08zM314.62 135.26h1.18v1.18h-1.18zM356.02 138.68h0.89v0.89h-0.89zM306.48 118.9h1.27v1.27h-1.27zM376.03 123h0.73v0.73h-0.73zM384.77 109.3h1.52v1.52h-1.52zM374.25 121.64h0.88v0.88h-0.88zM347.32 140.53h0.8v0.8h-0.8zM331.98 143.33h1.29v1.29h-1.29zM377.09 118.84h1.01v1.01h-1.01zM360.71 133.64h1.59v1.59h-1.59zM301.89 118.69h1.2v1.2h-1.2zM307.58 126.29h1.22v1.22h-1.22zM311.34 130.79h1.53v1.53h-1.53zM330.33 142.38h0.91v0.91h-0.91zM312.45 129.99h1.45v1.45h-1.45zM327.85 140.09h1.35v1.35h-1.35zM382.4 112.56h1.13v1.13h-1.13zM384.19 112.7h1.66v1.66h-1.66zM376.01 123.51h0.72v0.72h-0.72zM301.65 124.5h1.56v1.56h-1.56zM380.66 116.38h0.84v0.84h-0.84zM375.29 122.9h1.54v1.54h-1.54zM305.9 120.49h0.85v0.85h-0.85zM368.67 136.54h0.75v0.75h-0.75zM349.31 138.07h1.2v1.2h-1.2zM367.26 134.61h1.63v1.63h-1.63zM305.45 122.21h0.96v0.96h-0.96zM314.13 129.2h1.19v1.19h-1.19zM347.26 139.52h1.31v1.31h-1.31zM333.19 143.57h0.94v0.94h-0.94zM290.99 110.21h1.23v1.23h-1.23zM318.64 137.14h0.71v0.71h-0.71zM295.4 116.49h1.15v1.15h-1.15zM378 122.72h1.46v1.46h-1.46zM342.99 140.87h1.04v1.04h-1.04zM337.13 140.49h0.92v0.92h-0.92zM288.63 112.69h0.75v0.75h-0.75zM369.13 135.57h1.4v1.4h-1.4zM377.27 123.98h1.13v1.13h-1.13zM323.96 139.7h1.61v1.61h-1.61zM309.01 126.54h1.44v1.44h-1.44zM331.9 142.58h0.8v0.8h-0.8zM356.46 138.49h1.61v1.61h-1.61zM305.44 125.2h1.63v1.63h-1.63zM321.01 138.7h1.52v1.52h-1.52zM303.53 119.9h1.53v1.53h-1.53zM375.77 125.49h1.38v1.38h-1.38zM328.69 140.22h1.42v1.42h-1.42zM320.81 139.95h1.37v1.37h-1.37zM389.72 107.37h1.29v1.29h-1.29zM303.01 118.66h0.96v0.96h-0.96zM379.7 116.67h0.83v0.83h-0.83zM290.12 114.3h1.43v1.43h-1.43zM302.34 122.01h1.3v1.3h-1.3zM323.59 136.57h0.76v0.76h-0.76zM364.86 129.68h1.34v1.34h-1.34zM345.24 139.56h1.31v1.31h-1.31zM347.17 136.65h1.21v1.21h-1.21zM381.52 116.88h1.48v1.48h-1.48zM345.88 137.82h1.58v1.58h-1.58zM320.22 133.71h1.08v1.08h-1.08zM298.48 116.85h1.51v1.51h-1.51zM370.77 135.43h1.2v1.2h-1.2zM382.22 119.47h1.27v1.27h-1.27zM329.12 139.56h1.11v1.11h-1.11zM365.93 136.97h1.63v1.63h-1.63zM298 124.88h1.14v1.14h-1.14zM336.82 145.15h1.65v1.65h-1.65zM335.42 142.53h1.04v1.04h-1.04zM312.29 134.74h1.37v1.37h-1.37zM315.68 126.4h1.61v1.61h-1.61zM334.18 141.45h1.38v1.38h-1.38zM338.91 143.85h1.08v1.08h-1.08z" fill="#93603c" opacity="0.42" filter="url(#b05)"/>
<path d="M327.3 144.4 L325 159 L321 172 L318.8 181" fill="none" stroke="#a98474" stroke-width="4" stroke-linecap="round" stroke-linejoin="round" opacity="0.18" filter="url(#b2)"/>
<path d="M327.3 144.4 L325 159 L321 172 L318.8 181" fill="none" stroke="#98643f" stroke-width="4.6" stroke-linecap="round" stroke-linejoin="round" opacity="0.5" filter="url(#speck)"/>
<path d="M324.53 147.08h0.93v0.93h-0.93zM321.07 168.54h1.03v1.03h-1.03zM321.9 161.69h1.06v1.06h-1.06zM321.79 172.1h0.7v0.7h-0.7zM324.97 150.38h1.59v1.59h-1.59zM319.79 183.49h0.79v0.79h-0.79zM326.57 159.62h0.8v0.8h-0.8zM326.75 147.58h1.5v1.5h-1.5zM325.21 146.94h1.52v1.52h-1.52zM328.57 150.02h1.15v1.15h-1.15zM326.72 147.98h1.12v1.12h-1.12zM317.9 173.94h0.84v0.84h-0.84zM322.27 166.36h0.7v0.7h-0.7zM328.15 150.39h1.22v1.22h-1.22zM320.02 162.66h0.94v0.94h-0.94zM325.34 148.63h0.85v0.85h-0.85zM323.92 160.7h1.61v1.61h-1.61zM318.88 164.04h0.72v0.72h-0.72zM324.95 153.49h1.06v1.06h-1.06zM323.29 170.62h1.45v1.45h-1.45zM318.3 182.27h1.45v1.45h-1.45zM325.32 152.95h0.81v0.81h-0.81zM325.96 161.75h1.44v1.44h-1.44zM319.86 166.31h1.26v1.26h-1.26z" fill="#93603c" opacity="0.39" filter="url(#b05)"/>
<path d="M376 142.3 L378 163.5 L373.8 179" fill="none" stroke="#a98474" stroke-width="5" stroke-linecap="round" stroke-linejoin="round" opacity="0.12" filter="url(#b2)"/>
<path d="M376 142.3 L378 163.5 L373.8 179" fill="none" stroke="#98643f" stroke-width="5.75" stroke-linecap="round" stroke-linejoin="round" opacity="0.41" filter="url(#speck)"/>
<path d="M381.04 163.53h1.15v1.15h-1.15zM377.36 160.96h1.42v1.42h-1.42zM378.71 158.99h1.31v1.31h-1.31zM381.15 156.31h1.1v1.1h-1.1zM374.55 155.05h1.57v1.57h-1.57zM373.68 165.3h0.83v0.83h-0.83zM372.86 161.97h1.66v1.66h-1.66zM373.1 157.34h0.79v0.79h-0.79zM375.47 162.9h1.67v1.67h-1.67zM375.79 161.86h1.29v1.29h-1.29zM373.58 151.87h1.15v1.15h-1.15zM376.2 175.16h1.64v1.64h-1.64zM371.04 170.26h1.21v1.21h-1.21zM376.31 145.01h1.21v1.21h-1.21zM379.99 163.92h0.76v0.76h-0.76zM374.68 167.93h1.5v1.5h-1.5zM380.57 158.3h1.34v1.34h-1.34z" fill="#93603c" opacity="0.32" filter="url(#b05)"/>
<path d="M369.6 133.8 L378 140 L392 142" fill="none" stroke="#a98474" stroke-width="5" stroke-linecap="round" stroke-linejoin="round" opacity="0.12" filter="url(#b2)"/>
<path d="M369.6 133.8 L378 140 L392 142" fill="none" stroke="#98643f" stroke-width="5.75" stroke-linecap="round" stroke-linejoin="round" opacity="0.41" filter="url(#speck)"/>
<path d="M375.89 138.59h0.84v0.84h-0.84zM391.87 139.27h0.94v0.94h-0.94zM370.5 132.23h1.22v1.22h-1.22zM378.27 140.34h1.49v1.49h-1.49zM372.9 131.41h1.41v1.41h-1.41zM367.39 132.58h1.27v1.27h-1.27zM387.79 139.66h0.78v0.78h-0.78zM377.47 138.38h1.42v1.42h-1.42zM381.41 142.21h1.21v1.21h-1.21zM368.92 134.06h0.87v0.87h-0.87zM381.26 140.03h1.32v1.32h-1.32zM381.4 135.08h0.95v0.95h-0.95zM385.03 140.34h1.01v1.01h-1.01zM381.38 138.96h1.15v1.15h-1.15z" fill="#93603c" opacity="0.32" filter="url(#b05)"/>
<ellipse cx="321" cy="136" rx="2.4" ry="1.6" fill="#d6cfdc" opacity="0.5" filter="url(#b1)"/>
<ellipse cx="381" cy="141" rx="1.8" ry="1.6" fill="#d6cfdc" opacity="0.5" filter="url(#b1)"/>
</g>
</g>
</g>
<rect x="289.3" y="103.2" width="104.2" height="78.2" fill="none" stroke="#221c28" stroke-width="0.9"/>
<line x1="371.8" y1="175" x2="390" y2="175" stroke="#0c0c0c" stroke-width="1.4" stroke-linecap="butt"/>
<clipPath id="hc4"><rect x="396.8" y="103.2" width="104.7" height="78.2"/></clipPath>
<g clip-path="url(#hc4)">
<g filter="url(#soft)">
<g filter="url(#grain)">
<rect x="394.8" y="101.2" width="108.7" height="82.2" fill="#9489ae"/>
<ellipse cx="421" cy="136" rx="17" ry="18" fill="#8378ab" opacity="0.8" filter="url(#b4)"/>
<ellipse cx="483" cy="164" rx="20" ry="15" fill="#8378ab" opacity="0.8" filter="url(#b4)"/>
<ellipse cx="486" cy="112" rx="14" ry="6" fill="#8378ab" opacity="0.6" filter="url(#b4)"/>
<ellipse cx="415" cy="112" rx="14" ry="8" fill="#8378ab" opacity="0.5" filter="url(#b4)"/>
<path d="M444.8 104 L463.8 112.7 L482.8 123.3 L501 132" fill="none" stroke="#c0b6c8" stroke-width="7" stroke-linecap="round" stroke-linejoin="round" opacity="0.4" filter="url(#b3)"/>
<path d="M440 104 L446 120 L452 134" fill="none" stroke="#c0b6c8" stroke-width="6" stroke-linecap="round" stroke-linejoin="round" opacity="0.28" filter="url(#b3)"/>
<path d="M398 165 L406.7 157 L415 148.7 L420 140" fill="none" stroke="#c0b6c8" stroke-width="5" stroke-linecap="round" stroke-linejoin="round" opacity="0.32" filter="url(#b3)"/>
<path d="M468 146 L478 150 L482 146" fill="none" stroke="#c0b6c8" stroke-width="8" stroke-linecap="round" stroke-linejoin="round" opacity="0.28" filter="url(#b3)"/>
<path d="M398 172 L420 168 L440 158" fill="none" stroke="#c0b6c8" stroke-width="6" stroke-linecap="round" stroke-linejoin="round" opacity="0.24" filter="url(#b3)"/>
<path d="M446.9 105 L449 119 L455.3 131.7 L463.8 140.2 L457.5 148.7 L449 157" fill="none" stroke="#a98474" stroke-width="5.5" stroke-linecap="round" stroke-linejoin="round" opacity="0.24" filter="url(#b2)"/>
<path d="M446.9 105 L449 119 L455.3 131.7 L463.8 140.2 L457.5 148.7 L449 157" fill="none" stroke="#98643f" stroke-width="6.32" stroke-linecap="round" stroke-linejoin="round" opacity="0.68" filter="url(#speck)"/>
<path d="M446.08 107.32h1.41v1.41h-1.41zM450.58 155.53h1.67v1.67h-1.67zM458.56 142.36h1.22v1.22h-1.22zM457.88 144.27h1.54v1.54h-1.54zM448.37 117.3h1.14v1.14h-1.14zM451.6 130.35h1.6v1.6h-1.6zM464.88 142h0.77v0.77h-0.77zM464.35 143.97h1.14v1.14h-1.14zM446.84 112.93h1.28v1.28h-1.28zM450.68 116.59h1.49v1.49h-1.49zM445.57 157.36h1.12v1.12h-1.12zM453.55 149.55h1.38v1.38h-1.38zM459.5 135.77h1.67v1.67h-1.67zM449.43 108.11h1.12v1.12h-1.12zM446.51 117.13h0.9v0.9h-0.9zM456.4 147.69h0.73v0.73h-0.73zM458.18 149.36h1.56v1.56h-1.56zM446.5 104.88h1.18v1.18h-1.18zM460.56 136.12h1.09v1.09h-1.09zM458.79 141.13h1.22v1.22h-1.22zM453.16 134.14h0.82v0.82h-0.82zM445.44 110.74h0.92v0.92h-0.92zM455.47 150.27h0.94v0.94h-0.94zM446.78 110.18h0.96v0.96h-0.96zM444.55 99.41h1.56v1.56h-1.56zM452.11 132.42h0.95v0.95h-0.95zM451.15 156.13h0.79v0.79h-0.79zM445.85 113.83h1.57v1.57h-1.57zM448.7 120.55h1.26v1.26h-1.26zM454.5 123.17h0.73v0.73h-0.73zM452.16 120.58h1.38v1.38h-1.38zM450.46 120.1h1.39v1.39h-1.39zM448.74 121.93h1.35v1.35h-1.35zM449.39 124.01h1.47v1.47h-1.47zM451.03 157.06h1.12v1.12h-1.12zM449.29 125.29h0.92v0.92h-0.92zM451.01 150.65h1.44v1.44h-1.44zM453.75 151.28h1.33v1.33h-1.33zM445.8 153.27h1.4v1.4h-1.4zM454.13 121.75h0.88v0.88h-0.88zM451.75 118.51h1.07v1.07h-1.07zM451.39 125.93h1.39v1.39h-1.39zM447.72 115.58h1.08v1.08h-1.08zM446.19 121.28h1.3v1.3h-1.3zM453.18 125.19h1.17v1.17h-1.17zM451.05 126.95h1.45v1.45h-1.45zM450.98 121.61h1.05v1.05h-1.05zM446.76 111.9h1.2v1.2h-1.2zM461.52 137.64h1.53v1.53h-1.53zM449.67 150.79h1.01v1.01h-1.01zM445.19 108.57h0.88v0.88h-0.88zM460.21 129.75h1.34v1.34h-1.34zM444.48 102.94h0.83v0.83h-0.83zM462.87 137.96h1.56v1.56h-1.56zM459.38 129.18h0.97v0.97h-0.97zM456.78 148.28h1.6v1.6h-1.6zM457.05 148.54h1.23v1.23h-1.23zM452.65 127.09h0.85v0.85h-0.85zM455.3 128.04h1.22v1.22h-1.22zM456.04 141.07h1.38v1.38h-1.38zM447.47 116.29h1.19v1.19h-1.19zM448.14 104.33h1.34v1.34h-1.34zM454 153.54h1.07v1.07h-1.07zM452.42 151.51h1.66v1.66h-1.66zM452.51 125.09h0.87v0.87h-0.87zM451.96 111.48h1.5v1.5h-1.5z" fill="#93603c" opacity="0.52" filter="url(#b05)"/>
<path d="M449 157 L438.4 165.6 L425.7 173 L411 177 L398 180" fill="none" stroke="#a98474" stroke-width="8" stroke-linecap="round" stroke-linejoin="round" opacity="0.3" filter="url(#b2)"/>
<path d="M449 157 L438.4 165.6 L425.7 173 L411 177 L398 180" fill="none" stroke="#98643f" stroke-width="9.2" stroke-linecap="round" stroke-linejoin="round" opacity="0.9" filter="url(#speck)"/>
<path d="M446.14 157.17h1.25v1.25h-1.25zM436.7 157.48h1.18v1.18h-1.18zM431.6 169.27h0.81v0.81h-0.81zM417.51 176.45h1.11v1.11h-1.11zM402.89 176.67h0.87v0.87h-0.87zM410.94 177.1h1.1v1.1h-1.1zM445.63 163.61h0.73v0.73h-0.73zM442.57 167.91h1.27v1.27h-1.27zM444.53 158.49h1.5v1.5h-1.5zM429.03 168.19h1.57v1.57h-1.57zM404.58 178.37h1.63v1.63h-1.63zM415.88 179.26h0.95v0.95h-0.95zM407.41 181.23h1.5v1.5h-1.5zM434.2 162.56h1.06v1.06h-1.06zM429.29 168.47h1.41v1.41h-1.41zM400.78 173.36h1.17v1.17h-1.17zM444.67 157.78h1.44v1.44h-1.44zM422.77 180.16h1.1v1.1h-1.1zM439.92 160.59h1.66v1.66h-1.66zM434.99 171.07h1.17v1.17h-1.17zM394.41 184.14h1.5v1.5h-1.5zM432.58 171.48h0.88v0.88h-0.88zM399.63 174.49h1.43v1.43h-1.43zM446.26 158.13h0.91v0.91h-0.91zM444 160.35h1.11v1.11h-1.11zM438.29 159.78h1.08v1.08h-1.08zM404.35 176.67h1.37v1.37h-1.37zM443.75 162h1.28v1.28h-1.28zM434.67 164.42h0.98v0.98h-0.98zM397.49 171.21h1.63v1.63h-1.63zM445.6 160.73h0.74v0.74h-0.74zM413.45 177.65h1.18v1.18h-1.18zM439.11 173.95h0.83v0.83h-0.83zM443.53 165.41h0.81v0.81h-0.81zM440.05 166.26h0.92v0.92h-0.92zM443.07 164.91h1.64v1.64h-1.64zM413.95 181.42h0.72v0.72h-0.72zM423.17 181.35h1.42v1.42h-1.42zM440.36 159.11h1.28v1.28h-1.28zM450.02 153.6h1.54v1.54h-1.54zM428 171.12h1.55v1.55h-1.55zM444.24 167.28h0.82v0.82h-0.82zM425.9 166.51h1.62v1.62h-1.62zM405.6 176.4h0.84v0.84h-0.84zM427.25 171.22h0.82v0.82h-0.82zM442.55 160.39h0.94v0.94h-0.94zM397.31 181.94h1.4v1.4h-1.4zM433.49 169.99h1.28v1.28h-1.28zM411.26 177.02h1.39v1.39h-1.39zM440.93 164.45h0.92v0.92h-0.92zM430.68 169.66h1.17v1.17h-1.17zM428.87 170.63h1.03v1.03h-1.03zM412.68 178.96h1.66v1.66h-1.66zM421.57 168.24h1.27v1.27h-1.27zM433.17 169.43h1.4v1.4h-1.4zM400.09 175.2h1.15v1.15h-1.15zM434.4 165.84h0.82v0.82h-0.82zM409.24 178.32h0.8v0.8h-0.8zM447.41 154.56h0.93v0.93h-0.93zM424.26 166.19h1.44v1.44h-1.44zM399.41 176.85h0.9v0.9h-0.9zM404.47 179.61h1.18v1.18h-1.18zM404.06 174.97h1.04v1.04h-1.04zM405.28 178.71h0.83v0.83h-0.83zM435.89 166.31h1.07v1.07h-1.07zM431.42 167.35h1.19v1.19h-1.19zM405.39 178.38h1.62v1.62h-1.62zM399.66 179.4h1.48v1.48h-1.48zM431.66 167.89h1.13v1.13h-1.13zM422.73 169.4h0.99v0.99h-0.99zM410.88 177.78h0.94v0.94h-0.94zM447.99 156.64h1.05v1.05h-1.05zM440.18 161.7h1.23v1.23h-1.23zM446.6 155.52h1.67v1.67h-1.67zM438.88 168.95h0.77v0.77h-0.77zM407.27 174.59h0.89v0.89h-0.89zM443.09 163.96h1.1v1.1h-1.1zM393.44 182.32h1.27v1.27h-1.27zM416.31 171.56h0.77v0.77h-0.77zM407.06 176.9h0.72v0.72h-0.72zM430.71 173.01h1.25v1.25h-1.25zM435.77 173.11h0.72v0.72h-0.72zM420.48 179.28h1.52v1.52h-1.52zM397.18 180.34h1.37v1.37h-1.37zM442.52 163.85h1.17v1.17h-1.17zM424.95 172.31h1.7v1.7h-1.7zM448.82 157.51h1.18v1.18h-1.18zM416.16 175.62h1.65v1.65h-1.65zM417.06 176.27h0.92v0.92h-0.92zM441.54 162.27h0.78v0.78h-0.78zM404.97 176.26h1.12v1.12h-1.12zM403.59 183.66h1.23v1.23h-1.23zM409.97 172.5h1.37v1.37h-1.37zM426.49 168.57h0.83v0.83h-0.83zM423.99 172.61h1.41v1.41h-1.41zM404.97 175.52h0.99v0.99h-0.99zM445.69 158.1h1.65v1.65h-1.65zM434.37 167.12h1.5v1.5h-1.5zM417.85 180.84h1.47v1.47h-1.47zM441.97 166.67h0.74v0.74h-0.74zM427.36 168.86h0.76v0.76h-0.76zM434.37 170.62h0.73v0.73h-0.73zM437.1 158.94h1.14v1.14h-1.14zM414.78 179.13h0.73v0.73h-0.73zM439.09 160.92h0.84v0.84h-0.84zM444.24 150.89h0.76v0.76h-0.76zM433.58 170.29h1.69v1.69h-1.69zM441 166.4h1.17v1.17h-1.17zM425.16 174.67h0.96v0.96h-0.96zM427.06 170.79h0.85v0.85h-0.85zM412.42 174.8h0.98v0.98h-0.98zM430.11 168.83h0.81v0.81h-0.81z" fill="#93603c" opacity="0.7" filter="url(#b05)"/>
<path d="M463.8 140.2 L478.6 134.9 L493.4 136 L501 135" fill="none" stroke="#a98474" stroke-width="4.5" stroke-linecap="round" stroke-linejoin="round" opacity="0.24" filter="url(#b2)"/>
<path d="M463.8 140.2 L478.6 134.9 L493.4 136 L501 135" fill="none" stroke="#98643f" stroke-width="5.17" stroke-linecap="round" stroke-linejoin="round" opacity="0.68" filter="url(#speck)"/>
<path d="M495.8 133.54h1.52v1.52h-1.52zM463.05 136.39h0.8v0.8h-0.8zM477.3 134.04h1.52v1.52h-1.52zM482.09 132.58h1.02v1.02h-1.02zM470.17 137.41h1.67v1.67h-1.67zM473.24 134.7h1.27v1.27h-1.27zM485.3 132.41h0.9v0.9h-0.9zM479.97 132.53h1.22v1.22h-1.22zM466.37 139.6h1.24v1.24h-1.24zM496.8 137.37h1.21v1.21h-1.21zM488.72 136.88h1.09v1.09h-1.09zM500.24 136.96h1.29v1.29h-1.29zM472.06 137.18h1.24v1.24h-1.24zM496.15 136.15h1.5v1.5h-1.5zM468.56 142.13h1.04v1.04h-1.04zM471.04 137.55h1.16v1.16h-1.16zM492.46 137.64h0.71v0.71h-0.71zM497.64 136.79h1.45v1.45h-1.45zM491.4 135.74h0.76v0.76h-0.76zM498.48 134.63h1.57v1.57h-1.57zM498.09 136.05h1.22v1.22h-1.22zM476.02 135.09h1.27v1.27h-1.27zM468.82 138.3h1.09v1.09h-1.09zM492.28 135.81h1.25v1.25h-1.25zM476 139.53h0.8v0.8h-0.8zM482.66 136.45h0.86v0.86h-0.86zM471 136.7h1.23v1.23h-1.23zM486.96 137.98h1v1h-1zM497.16 134h1.2v1.2h-1.2zM480.97 133.81h1.19v1.19h-1.19zM498.58 135.07h1.68v1.68h-1.68zM463.72 139.06h1.35v1.35h-1.35zM478.55 133.48h0.72v0.72h-0.72zM499.96 134.24h1.36v1.36h-1.36zM479.84 138.12h1.02v1.02h-1.02zM470.44 134.97h0.88v0.88h-0.88zM477.57 134.08h1.06v1.06h-1.06zM483.78 132.62h1.6v1.6h-1.6z" fill="#93603c" opacity="0.52" filter="url(#b05)"/>
<path d="M425.7 112 L419.4 129.6 L415 142.3" fill="none" stroke="#a98474" stroke-width="6" stroke-linecap="round" stroke-linejoin="round" opacity="0.03" filter="url(#b2)"/>
<path d="M425.7 112 L419.4 129.6 L415 142.3" fill="none" stroke="#98643f" stroke-width="6.9" stroke-linecap="round" stroke-linejoin="round" opacity="0.27" filter="url(#speck)"/>
<path d="M408.7 137.22h1.64v1.64h-1.64zM423.05 131.87h1.58v1.58h-1.58zM414.29 134.4h1.46v1.46h-1.46zM421.92 127.95h1.34v1.34h-1.34zM430.49 111.87h1.45v1.45h-1.45zM417.46 120.51h1.01v1.01h-1.01zM420.18 130.52h0.75v0.75h-0.75zM417.13 129.65h1.29v1.29h-1.29zM417.22 126.85h0.92v0.92h-0.92zM424.11 103.69h1.16v1.16h-1.16zM419.9 127.57h1.47v1.47h-1.47zM416.76 120.77h1.68v1.68h-1.68zM424.71 149.47h0.83v0.83h-0.83zM421.7 120.01h1.62v1.62h-1.62z" fill="#93603c" opacity="0.21" filter="url(#b05)"/>
<ellipse cx="437" cy="120" rx="2.2" ry="1.8" fill="#d6cfdc" opacity="0.5" filter="url(#b1)"/>
<ellipse cx="478" cy="148" rx="2.2" ry="1.6" fill="#d6cfdc" opacity="0.5" filter="url(#b1)"/>
<ellipse cx="460" cy="132" rx="1.8" ry="1.4" fill="#d6cfdc" opacity="0.4" filter="url(#b1)"/>
</g>
</g>
</g>
<rect x="396.8" y="103.2" width="104.7" height="78.2" fill="none" stroke="#221c28" stroke-width="0.9"/>
<line x1="479.8" y1="174" x2="497" y2="174" stroke="#0c0c0c" stroke-width="1.4" stroke-linecap="butt"/>
<text transform="translate(6.5 142.8) scale(1.16 1)" font-size="10.3" text-anchor="start" font-weight="bold" font-style="normal" fill="#000" stroke="#000" stroke-width="0.25">C</text>
<text transform="translate(105.5 140.5)" font-size="10.4" text-anchor="middle" font-weight="normal" font-style="normal" fill="#141414">BMDM</text>
<line x1="42.1" y1="149.35" x2="42.1" y2="225.15" stroke="#000000" stroke-width="1.3" stroke-linecap="butt"/>
<line x1="37.9" y1="150" x2="42.1" y2="150" stroke="#000000" stroke-width="1.3" stroke-linecap="butt"/>
<text transform="translate(36.3 152.99) scale(1 1)" font-size="8.3" text-anchor="end" font-weight="normal" font-style="normal" fill="#141414">3000</text>
<line x1="37.9" y1="174.8" x2="42.1" y2="174.8" stroke="#000000" stroke-width="1.3" stroke-linecap="butt"/>
<text transform="translate(36.3 177.79) scale(1 1)" font-size="8.3" text-anchor="end" font-weight="normal" font-style="normal" fill="#141414">2000</text>
<line x1="37.9" y1="199.7" x2="42.1" y2="199.7" stroke="#000000" stroke-width="1.3" stroke-linecap="butt"/>
<text transform="translate(36.3 202.69) scale(1 1)" font-size="8.3" text-anchor="end" font-weight="normal" font-style="normal" fill="#141414">1000</text>
<line x1="37.9" y1="224.5" x2="42.1" y2="224.5" stroke="#000000" stroke-width="1.3" stroke-linecap="butt"/>
<text transform="translate(36.3 227.49) scale(1 1)" font-size="8.3" text-anchor="end" font-weight="normal" font-style="normal" fill="#141414">0</text>
<text transform="translate(15.3 188.7) rotate(-90) scale(0.86 1)" font-size="8.6" text-anchor="middle" font-weight="normal" font-style="normal" fill="#141414">MFI of calcein</text>
<rect x="51" y="171" width="15" height="53.5" fill="#0e5188"/>
<rect x="66" y="170" width="15" height="54.5" fill="#c32033"/>
<rect x="89.5" y="201" width="15" height="23.5" fill="#0e5188"/>
<rect x="104.5" y="192" width="15" height="32.5" fill="#c32033"/>
<rect x="128" y="193" width="15" height="31.5" fill="#0e5188"/>
<rect x="143" y="173.7" width="15" height="50.8" fill="#c32033"/>
<line x1="41.45" y1="224.5" x2="167" y2="224.5" stroke="#000000" stroke-width="1.3" stroke-linecap="butt"/>
<line x1="66" y1="224.5" x2="66" y2="227.9" stroke="#000000" stroke-width="1.3" stroke-linecap="butt"/>
<line x1="104.5" y1="224.5" x2="104.5" y2="227.9" stroke="#000000" stroke-width="1.3" stroke-linecap="butt"/>
<line x1="143" y1="224.5" x2="143" y2="227.9" stroke="#000000" stroke-width="1.3" stroke-linecap="butt"/>
<text transform="translate(67.5 237.5)" font-size="8.4" text-anchor="middle" font-weight="normal" font-style="normal" fill="#141414">Untreated</text>
<text transform="translate(107 237.5)" font-size="8.3" text-anchor="middle" font-weight="normal" font-style="normal" fill="#141414">FAC</text>
<text transform="translate(145 237.5)" font-size="8.3" text-anchor="middle" font-weight="normal" font-style="normal" fill="#141414">Fresh</text>
<line x1="58.5" y1="168.7" x2="58.5" y2="171" stroke="#000000" stroke-width="0.9" stroke-linecap="butt"/>
<line x1="55.3" y1="168.7" x2="61.7" y2="168.7" stroke="#000000" stroke-width="0.9" stroke-linecap="butt"/>
<line x1="73.5" y1="166.5" x2="73.5" y2="170" stroke="#000000" stroke-width="0.9" stroke-linecap="butt"/>
<line x1="70.3" y1="166.5" x2="76.7" y2="166.5" stroke="#000000" stroke-width="0.9" stroke-linecap="butt"/>
<line x1="97" y1="199.5" x2="97" y2="201" stroke="#000000" stroke-width="0.9" stroke-linecap="butt"/>
<line x1="93.8" y1="199.5" x2="100.2" y2="199.5" stroke="#000000" stroke-width="0.9" stroke-linecap="butt"/>
<line x1="112" y1="189" x2="112" y2="192" stroke="#000000" stroke-width="0.9" stroke-linecap="butt"/>
<line x1="108.8" y1="189" x2="115.2" y2="189" stroke="#000000" stroke-width="0.9" stroke-linecap="butt"/>
<line x1="135.5" y1="191" x2="135.5" y2="193" stroke="#000000" stroke-width="0.9" stroke-linecap="butt"/>
<line x1="132.3" y1="191" x2="138.7" y2="191" stroke="#000000" stroke-width="0.9" stroke-linecap="butt"/>
<line x1="150.5" y1="161.5" x2="150.5" y2="173.7" stroke="#000000" stroke-width="0.9" stroke-linecap="butt"/>
<line x1="146.9" y1="161.5" x2="154.1" y2="161.5" stroke="#000000" stroke-width="0.9" stroke-linecap="butt"/>
<circle cx="58" cy="168" r="2.05" fill="#2fb8ea" stroke="#07223a" stroke-width="0.9"/>
<circle cx="53.7" cy="175" r="2.05" fill="#2fb8ea" stroke="#07223a" stroke-width="0.9"/>
<circle cx="62.5" cy="171.7" r="2.05" fill="#2fb8ea" stroke="#07223a" stroke-width="0.9"/>
<rect x="71.7" y="163" width="4" height="4" fill="#2fb8ea" stroke="#07223a" stroke-width="0.9"/>
<rect x="68.5" y="170.5" width="4" height="4" fill="#2fb8ea" stroke="#07223a" stroke-width="0.9"/>
<rect x="75.5" y="169.7" width="4" height="4" fill="#2fb8ea" stroke="#07223a" stroke-width="0.9"/>
<circle cx="97" cy="198.7" r="2.05" fill="#2fb8ea" stroke="#07223a" stroke-width="0.9"/>
<circle cx="93" cy="203" r="2.05" fill="#2fb8ea" stroke="#07223a" stroke-width="0.9"/>
<circle cx="101" cy="202" r="2.05" fill="#2fb8ea" stroke="#07223a" stroke-width="0.9"/>
<rect x="111" y="185.5" width="4" height="4" fill="#2fb8ea" stroke="#07223a" stroke-width="0.9"/>
<rect x="110.5" y="190" width="4" height="4" fill="#2fb8ea" stroke="#07223a" stroke-width="0.9"/>
<rect x="111.7" y="194.7" width="4" height="4" fill="#2fb8ea" stroke="#07223a" stroke-width="0.9"/>
<circle cx="136" cy="190" r="2.05" fill="#2fb8ea" stroke="#07223a" stroke-width="0.9"/>
<circle cx="131" cy="196.7" r="2.05" fill="#2fb8ea" stroke="#07223a" stroke-width="0.9"/>
<circle cx="139.5" cy="193.7" r="2.05" fill="#2fb8ea" stroke="#07223a" stroke-width="0.9"/>
<rect x="149" y="154.7" width="4" height="4" fill="#2fb8ea" stroke="#07223a" stroke-width="0.9"/>
<rect x="148.5" y="166.7" width="4" height="4" fill="#2fb8ea" stroke="#07223a" stroke-width="0.9"/>
<rect x="149" y="194" width="4" height="4" fill="#2fb8ea" stroke="#07223a" stroke-width="0.9"/>
<line x1="55.5" y1="158.8" x2="78" y2="158.8" stroke="#000000" stroke-width="1.4" stroke-linecap="butt"/>
<text transform="translate(66.75 156.6)" font-size="7.5" text-anchor="middle" font-weight="normal" font-style="normal" fill="#141414">n.s.</text>
<line x1="94.5" y1="181.3" x2="117" y2="181.3" stroke="#000000" stroke-width="1.4" stroke-linecap="butt"/>
<text transform="translate(105.75 180.1)" font-size="9" text-anchor="middle" font-weight="normal" font-style="normal" fill="#141414">*</text>
<line x1="133" y1="151.3" x2="155" y2="151.3" stroke="#000000" stroke-width="1.4" stroke-linecap="butt"/>
<text transform="translate(144 150.1)" font-size="9" text-anchor="middle" font-weight="normal" font-style="normal" fill="#141414">*</text>
<rect x="167.5" y="146" width="13.5" height="8.5" fill="#0e5188"/>
<rect x="167.5" y="157" width="13.5" height="8" fill="#c32033"/>
<text transform="translate(185.5 152.3) scale(0.95 1)" font-size="7.8" text-anchor="start" font-weight="normal" font-style="italic" fill="#0a0a0a" stroke="#0a0a0a" stroke-width="0.18">Rnf217<tspan font-size="4.45" dy="-2.65" stroke-width="0.05">flox/flox</tspan></text>
<text transform="translate(185.5 162.8) scale(0.95 1)" font-size="7.8" text-anchor="start" font-weight="normal" font-style="italic" fill="#0a0a0a" stroke="#0a0a0a" stroke-width="0.18">Rnf217<tspan font-size="4.45" dy="-2.65" stroke-width="0.05">Lysm/Lysm</tspan></text>
<text transform="translate(6.5 262.2) scale(1.16 1)" font-size="10.3" text-anchor="start" font-weight="bold" font-style="normal" fill="#000" stroke="#000" stroke-width="0.25">D</text>
<text transform="translate(62 297.3) rotate(-45) scale(0.9 1)" font-size="8" text-anchor="start" font-weight="normal" font-style="normal" fill="#0a0a0a" stroke="#0a0a0a" stroke-width="0.18">Rnf217<tspan font-size="4.9" dy="-2.72" stroke-width="0.05">flox/flox</tspan></text>
<text transform="translate(114.5 297.3) rotate(-45) scale(0.9 1)" font-size="8" text-anchor="start" font-weight="normal" font-style="normal" fill="#0a0a0a" stroke="#0a0a0a" stroke-width="0.18">Rnf217<tspan font-size="4.9" dy="-2.72" stroke-width="0.05">Lysm/+</tspan></text>
<text transform="translate(158.5 297.3) rotate(-45) scale(0.9 1)" font-size="8" text-anchor="start" font-weight="normal" font-style="normal" fill="#0a0a0a" stroke="#0a0a0a" stroke-width="0.18">Rnf217<tspan font-size="4.9" dy="-2.72" stroke-width="0.05">Lysm/Lysm</tspan></text>
<line x1="45" y1="302.6" x2="92.5" y2="302.6" stroke="#000000" stroke-width="1.2" stroke-linecap="butt"/>
<line x1="96" y1="302.6" x2="143" y2="302.6" stroke="#000000" stroke-width="1.2" stroke-linecap="butt"/>
<line x1="146" y1="302.6" x2="192" y2="302.6" stroke="#000000" stroke-width="1.2" stroke-linecap="butt"/>
<text transform="translate(10.8 311.4) scale(0.95 1)" font-size="9" text-anchor="start" font-weight="normal" font-style="normal" fill="#141414">CHX(h)</text>
<text transform="translate(51.3 311.4)" font-size="9" text-anchor="middle" font-weight="normal" font-style="normal" fill="#141414">0</text>
<text transform="translate(70 311.4)" font-size="9" text-anchor="middle" font-weight="normal" font-style="normal" fill="#141414">2</text>
<text transform="translate(87 311.4)" font-size="9" text-anchor="middle" font-weight="normal" font-style="normal" fill="#141414">4</text>
<text transform="translate(102.3 311.4)" font-size="9" text-anchor="middle" font-weight="normal" font-style="normal" fill="#141414">0</text>
<text transform="translate(119 311.4)" font-size="9" text-anchor="middle" font-weight="normal" font-style="normal" fill="#141414">2</text>
<text transform="translate(135.7 311.4)" font-size="9" text-anchor="middle" font-weight="normal" font-style="normal" fill="#141414">4</text>
<text transform="translate(151.3 311.4)" font-size="9" text-anchor="middle" font-weight="normal" font-style="normal" fill="#141414">0</text>
<text transform="translate(169 311.4)" font-size="9" text-anchor="middle" font-weight="normal" font-style="normal" fill="#141414">2</text>
<text transform="translate(186 311.4)" font-size="9" text-anchor="middle" font-weight="normal" font-style="normal" fill="#141414">4</text>
<text transform="translate(196 311.4)" font-size="9.3" text-anchor="start" font-weight="normal" font-style="normal" fill="#141414">kD</text>
<text transform="translate(40 322.3) scale(0.9 1)" font-size="9.2" text-anchor="end" font-weight="normal" font-style="normal" fill="#141414">FPN</text>
<text transform="translate(40 341.5) scale(0.92 1)" font-size="9.2" text-anchor="end" font-weight="normal" font-style="normal" fill="#141414">GAPDH</text>
<text transform="translate(197 321.5)" font-size="9" text-anchor="start" font-weight="normal" font-style="normal" fill="#141414">70</text>
<text transform="translate(197 340.8)" font-size="9" text-anchor="start" font-weight="normal" font-style="normal" fill="#141414">35</text>
<clipPath id="bc1"><rect x="44.3" y="312.3" width="147.7" height="14.4"/></clipPath>
<g clip-path="url(#bc1)">
<rect x="44.3" y="312.3" width="147.7" height="14.4" fill="#747474"/>
<rect x="48.1" y="315.2" width="13.2" height="8.4" rx="4.2" ry="4.2" fill="#0c0c0c" opacity="1" filter="url(#bb)"/>
<rect x="65.2" y="316.4" width="11.2" height="6" rx="3" ry="3" fill="#0c0c0c" opacity="0.92" filter="url(#bb)"/>
<rect x="81.6" y="316.8" width="9.6" height="4" rx="2" ry="2" fill="#0c0c0c" opacity="0.5" filter="url(#bb)"/>
<rect x="96" y="315.8" width="13.2" height="7.2" rx="3.6" ry="3.6" fill="#0c0c0c" opacity="1" filter="url(#bb)"/>
<rect x="112.7" y="316.4" width="12" height="6" rx="3" ry="3" fill="#0c0c0c" opacity="0.95" filter="url(#bb)"/>
<rect x="129" y="316.6" width="10.4" height="4.4" rx="2.2" ry="2.2" fill="#0c0c0c" opacity="0.6" filter="url(#bb)"/>
<rect x="144.7" y="314.2" width="14.4" height="10.4" rx="5.2" ry="5.2" fill="#0c0c0c" opacity="1" filter="url(#bb)"/>
<rect x="160.8" y="316" width="12.4" height="6.8" rx="3.4" ry="3.4" fill="#0c0c0c" opacity="0.97" filter="url(#bb)"/>
<rect x="176.4" y="316.6" width="11.6" height="5.6" rx="2.8" ry="2.8" fill="#0c0c0c" opacity="0.8" filter="url(#bb)"/>
</g>
<rect x="44.3" y="312.3" width="147.7" height="14.4" fill="none" stroke="#161616" stroke-width="1.2"/>
<clipPath id="bc2"><rect x="44.3" y="329.4" width="147.7" height="15.8"/></clipPath>
<g clip-path="url(#bc2)">
<rect x="44.3" y="329.4" width="147.7" height="15.8" fill="#606060"/>
<rect x="48.6" y="335" width="12.2" height="5.2" rx="2.6" ry="2.6" fill="#0c0c0c" opacity="1" filter="url(#bb)"/>
<rect x="64.7" y="335" width="12.2" height="5.2" rx="2.6" ry="2.6" fill="#0c0c0c" opacity="1" filter="url(#bb)"/>
<rect x="80.3" y="335" width="12.2" height="5.2" rx="2.6" ry="2.6" fill="#0c0c0c" opacity="1" filter="url(#bb)"/>
<rect x="96.5" y="334.3" width="12.2" height="5.2" rx="2.6" ry="2.6" fill="#0c0c0c" opacity="1" filter="url(#bb)"/>
<rect x="112.6" y="334.3" width="12.2" height="5.2" rx="2.6" ry="2.6" fill="#0c0c0c" opacity="1" filter="url(#bb)"/>
<rect x="128.1" y="334.3" width="12.2" height="5.2" rx="2.6" ry="2.6" fill="#0c0c0c" opacity="1" filter="url(#bb)"/>
<rect x="145.8" y="334.3" width="12.2" height="5.2" rx="2.6" ry="2.6" fill="#0c0c0c" opacity="1" filter="url(#bb)"/>
<rect x="160.9" y="334.3" width="12.2" height="5.2" rx="2.6" ry="2.6" fill="#0c0c0c" opacity="1" filter="url(#bb)"/>
<rect x="176.1" y="334.3" width="12.2" height="5.2" rx="2.6" ry="2.6" fill="#0c0c0c" opacity="1" filter="url(#bb)"/>
<rect x="49.9" y="341.4" width="9.6" height="2" rx="1" ry="1" fill="#0c0c0c" opacity="0.3" filter="url(#bb)"/>
<rect x="66" y="341.4" width="9.6" height="2" rx="1" ry="1" fill="#0c0c0c" opacity="0.3" filter="url(#bb)"/>
<rect x="81.6" y="341.4" width="9.6" height="2" rx="1" ry="1" fill="#0c0c0c" opacity="0.3" filter="url(#bb)"/>
<rect x="97.8" y="341.4" width="9.6" height="2" rx="1" ry="1" fill="#0c0c0c" opacity="0.3" filter="url(#bb)"/>
<rect x="113.9" y="341.4" width="9.6" height="2" rx="1" ry="1" fill="#0c0c0c" opacity="0.3" filter="url(#bb)"/>
<rect x="129.4" y="341.4" width="9.6" height="2" rx="1" ry="1" fill="#0c0c0c" opacity="0.3" filter="url(#bb)"/>
<rect x="147.1" y="341.4" width="9.6" height="2" rx="1" ry="1" fill="#0c0c0c" opacity="0.3" filter="url(#bb)"/>
<rect x="162.2" y="341.4" width="9.6" height="2" rx="1" ry="1" fill="#0c0c0c" opacity="0.3" filter="url(#bb)"/>
<rect x="177.4" y="341.4" width="9.6" height="2" rx="1" ry="1" fill="#0c0c0c" opacity="0.3" filter="url(#bb)"/>
</g>
<rect x="44.3" y="329.4" width="147.7" height="15.8" fill="none" stroke="#161616" stroke-width="1.2"/>
<line x1="192.2" y1="318.3" x2="194.6" y2="318.3" stroke="#000000" stroke-width="1.1" stroke-linecap="butt"/>
<line x1="192.2" y1="337.6" x2="194.6" y2="337.6" stroke="#000000" stroke-width="1.1" stroke-linecap="butt"/>
<text transform="translate(220.5 203.6) scale(1.16 1)" font-size="10.3" text-anchor="start" font-weight="bold" font-style="normal" fill="#000" stroke="#000" stroke-width="0.25">E</text>
<line x1="263.8" y1="199.8" x2="276.2" y2="199.8" stroke="#000000" stroke-width="1.3" stroke-linecap="butt"/>
<circle cx="270" cy="199.8" r="1.8" fill="#1a5fb0" stroke="#0a0a0a" stroke-width="0.8"/>
<line x1="263.8" y1="210.6" x2="276.2" y2="210.6" stroke="#000000" stroke-width="1.3" stroke-linecap="butt"/>
<path d="M270 207.6L272.85 212.85L267.15 212.85Z" fill="#2fc64a" stroke="#0a0a0a" stroke-width="0.8"/>
<line x1="263.8" y1="220.8" x2="276.2" y2="220.8" stroke="#000000" stroke-width="1.3" stroke-linecap="butt"/>
<rect x="267.9" y="218.7" width="4.2" height="4.2" fill="#dc1c30" stroke="#0a0a0a" stroke-width="0.8"/>
<text transform="translate(279 202.6) scale(0.95 1)" font-size="8.1" text-anchor="start" font-weight="normal" font-style="italic" fill="#0a0a0a" stroke="#0a0a0a" stroke-width="0.18">Rnf217<tspan font-size="4.62" dy="-2.75" stroke-width="0.05">flox/flox</tspan></text>
<text transform="translate(280.6 213.4) scale(0.95 1)" font-size="8.1" text-anchor="start" font-weight="normal" font-style="italic" fill="#0a0a0a" stroke="#0a0a0a" stroke-width="0.18">Rnf217<tspan font-size="4.62" dy="-2.75" stroke-width="0.05">Lysm/+</tspan></text>
<text transform="translate(277.8 223.6) scale(0.95 1)" font-size="8.1" text-anchor="start" font-weight="normal" font-style="italic" fill="#0a0a0a" stroke="#0a0a0a" stroke-width="0.18">Rnf217<tspan font-size="4.62" dy="-2.75" stroke-width="0.05">Lysm/Lysm</tspan></text>
<line x1="261.4" y1="237.05" x2="261.4" y2="333.15" stroke="#000000" stroke-width="1.3" stroke-linecap="butt"/>
<line x1="257.4" y1="237.7" x2="261.4" y2="237.7" stroke="#000000" stroke-width="1.3" stroke-linecap="butt"/>
<text transform="translate(255.8 240.69) scale(1 1)" font-size="8.3" text-anchor="end" font-weight="normal" font-style="normal" fill="#141414">1.5</text>
<line x1="257.4" y1="269.3" x2="261.4" y2="269.3" stroke="#000000" stroke-width="1.3" stroke-linecap="butt"/>
<text transform="translate(255.8 272.29) scale(1 1)" font-size="8.3" text-anchor="end" font-weight="normal" font-style="normal" fill="#141414">1.0</text>
<line x1="257.4" y1="300.9" x2="261.4" y2="300.9" stroke="#000000" stroke-width="1.3" stroke-linecap="butt"/>
<text transform="translate(255.8 303.89) scale(1 1)" font-size="8.3" text-anchor="end" font-weight="normal" font-style="normal" fill="#141414">0.5</text>
<line x1="257.4" y1="332.5" x2="261.4" y2="332.5" stroke="#000000" stroke-width="1.3" stroke-linecap="butt"/>
<text transform="translate(255.8 335.49) scale(1 1)" font-size="8.3" text-anchor="end" font-weight="normal" font-style="normal" fill="#141414">0.0</text>
<line x1="260.75" y1="332.5" x2="343" y2="332.5" stroke="#000000" stroke-width="1.3" stroke-linecap="butt"/>
<line x1="268.5" y1="332.5" x2="268.5" y2="335.9" stroke="#000000" stroke-width="1.3" stroke-linecap="butt"/>
<line x1="299.8" y1="332.5" x2="299.8" y2="335.9" stroke="#000000" stroke-width="1.3" stroke-linecap="butt"/>
<line x1="331" y1="332.5" x2="331" y2="335.9" stroke="#000000" stroke-width="1.3" stroke-linecap="butt"/>
<text transform="translate(268.5 345.2)" font-size="9.2" text-anchor="middle" font-weight="normal" font-style="normal" fill="#141414">0</text>
<text transform="translate(299.8 345.2)" font-size="9.2" text-anchor="middle" font-weight="normal" font-style="normal" fill="#141414">2</text>
<text transform="translate(331 345.2)" font-size="9.2" text-anchor="middle" font-weight="normal" font-style="normal" fill="#141414">4</text>
<text transform="translate(229.5 345.2) scale(0.95 1)" font-size="9" text-anchor="start" font-weight="normal" font-style="normal" fill="#141414">CHX(h)</text>
<text transform="translate(225.5 285.4) rotate(-90) scale(0.92 1)" font-size="8.4" text-anchor="middle" font-weight="normal" font-style="normal" fill="#141414">FPN protein level</text>
<text transform="translate(237.4 285.4) rotate(-90) scale(0.92 1)" font-size="8.4" text-anchor="middle" font-weight="normal" font-style="normal" fill="#141414">(relative to gapdh)</text>
<line x1="268.5" y1="265.9" x2="268.5" y2="272.9" stroke="#000000" stroke-width="1.1" stroke-linecap="butt"/>
<line x1="265.9" y1="265.9" x2="271.1" y2="265.9" stroke="#000000" stroke-width="1.1" stroke-linecap="butt"/>
<line x1="265.9" y1="272.9" x2="271.1" y2="272.9" stroke="#000000" stroke-width="1.1" stroke-linecap="butt"/>
<line x1="299.8" y1="288.3" x2="299.8" y2="294.7" stroke="#000000" stroke-width="1.1" stroke-linecap="butt"/>
<line x1="297.2" y1="288.3" x2="302.4" y2="288.3" stroke="#000000" stroke-width="1.1" stroke-linecap="butt"/>
<line x1="297.2" y1="294.7" x2="302.4" y2="294.7" stroke="#000000" stroke-width="1.1" stroke-linecap="butt"/>
<line x1="331" y1="311" x2="331" y2="320" stroke="#000000" stroke-width="1.1" stroke-linecap="butt"/>
<line x1="328.4" y1="311" x2="333.6" y2="311" stroke="#000000" stroke-width="1.1" stroke-linecap="butt"/>
<line x1="328.4" y1="320" x2="333.6" y2="320" stroke="#000000" stroke-width="1.1" stroke-linecap="butt"/>
<line x1="268.5" y1="272" x2="268.5" y2="282" stroke="#000000" stroke-width="1.1" stroke-linecap="butt"/>
<line x1="265.9" y1="272" x2="271.1" y2="272" stroke="#000000" stroke-width="1.1" stroke-linecap="butt"/>
<line x1="265.9" y1="282" x2="271.1" y2="282" stroke="#000000" stroke-width="1.1" stroke-linecap="butt"/>
<line x1="299.8" y1="288" x2="299.8" y2="294" stroke="#000000" stroke-width="1.1" stroke-linecap="butt"/>
<line x1="297.2" y1="288" x2="302.4" y2="288" stroke="#000000" stroke-width="1.1" stroke-linecap="butt"/>
<line x1="297.2" y1="294" x2="302.4" y2="294" stroke="#000000" stroke-width="1.1" stroke-linecap="butt"/>
<line x1="331" y1="295.3" x2="331" y2="317.3" stroke="#000000" stroke-width="1.1" stroke-linecap="butt"/>
<line x1="328.4" y1="295.3" x2="333.6" y2="295.3" stroke="#000000" stroke-width="1.1" stroke-linecap="butt"/>
<line x1="328.4" y1="317.3" x2="333.6" y2="317.3" stroke="#000000" stroke-width="1.1" stroke-linecap="butt"/>
<line x1="268.5" y1="258.3" x2="268.5" y2="263.3" stroke="#000000" stroke-width="1.1" stroke-linecap="butt"/>
<line x1="265.9" y1="258.3" x2="271.1" y2="258.3" stroke="#000000" stroke-width="1.1" stroke-linecap="butt"/>
<line x1="265.9" y1="263.3" x2="271.1" y2="263.3" stroke="#000000" stroke-width="1.1" stroke-linecap="butt"/>
<line x1="299.8" y1="262.5" x2="299.8" y2="271.5" stroke="#000000" stroke-width="1.1" stroke-linecap="butt"/>
<line x1="297.2" y1="262.5" x2="302.4" y2="262.5" stroke="#000000" stroke-width="1.1" stroke-linecap="butt"/>
<line x1="297.2" y1="271.5" x2="302.4" y2="271.5" stroke="#000000" stroke-width="1.1" stroke-linecap="butt"/>
<line x1="331" y1="279" x2="331" y2="288.6" stroke="#000000" stroke-width="1.1" stroke-linecap="butt"/>
<line x1="328.4" y1="279" x2="333.6" y2="279" stroke="#000000" stroke-width="1.1" stroke-linecap="butt"/>
<line x1="328.4" y1="288.6" x2="333.6" y2="288.6" stroke="#000000" stroke-width="1.1" stroke-linecap="butt"/>
<polyline points="268.5,269.4 299.8,291.5 331,315.5" fill="none" stroke="#0a0a0a" stroke-width="1.1"/>
<polyline points="268.5,277 299.8,291 331,306.3" fill="none" stroke="#0a0a0a" stroke-width="1.1"/>
<polyline points="268.5,260.8 299.8,267 331,283.8" fill="none" stroke="#0a0a0a" stroke-width="1.1"/>
<path d="M268.5 274.5L270.88 278.88L266.12 278.88Z" fill="#2fc64a" stroke="#0a0a0a" stroke-width="0.8"/>
<path d="M299.8 288.5L302.18 292.88L297.43 292.88Z" fill="#2fc64a" stroke="#0a0a0a" stroke-width="0.8"/>
<path d="M331 303.8L333.38 308.18L328.62 308.18Z" fill="#2fc64a" stroke="#0a0a0a" stroke-width="0.8"/>
<circle cx="268.5" cy="269.4" r="1.8" fill="#1a5fb0" stroke="#0a0a0a" stroke-width="0.8"/>
<circle cx="299.8" cy="291.5" r="1.8" fill="#1a5fb0" stroke="#0a0a0a" stroke-width="0.8"/>
<circle cx="331" cy="315.5" r="1.8" fill="#1a5fb0" stroke="#0a0a0a" stroke-width="0.8"/>
<rect x="266.4" y="258.7" width="4.2" height="4.2" fill="#dc1c30" stroke="#0a0a0a" stroke-width="0.8"/>
<rect x="297.7" y="264.9" width="4.2" height="4.2" fill="#dc1c30" stroke="#0a0a0a" stroke-width="0.8"/>
<rect x="328.9" y="281.7" width="4.2" height="4.2" fill="#dc1c30" stroke="#0a0a0a" stroke-width="0.8"/>
<text transform="translate(270.5 252.5)" font-size="7" text-anchor="middle" font-weight="normal" font-style="normal" fill="#141414">a</text>
<text transform="translate(263.5 274.5)" font-size="7" text-anchor="middle" font-weight="normal" font-style="normal" fill="#141414">a</text>
<text transform="translate(269.3 289)" font-size="7" text-anchor="middle" font-weight="normal" font-style="normal" fill="#141414">a</text>
<text transform="translate(300.5 258.5)" font-size="7" text-anchor="middle" font-weight="normal" font-style="normal" fill="#141414">b</text>
<text transform="translate(300.5 283.3)" font-size="7" text-anchor="middle" font-weight="normal" font-style="normal" fill="#141414">a</text>
<text transform="translate(291.5 298.5)" font-size="7" text-anchor="middle" font-weight="normal" font-style="normal" fill="#141414">a</text>
<text transform="translate(331.2 273)" font-size="7" text-anchor="middle" font-weight="normal" font-style="normal" fill="#141414">b</text>
<text transform="translate(336.8 304.5)" font-size="7" text-anchor="middle" font-weight="normal" font-style="normal" fill="#141414">a</text>
<text transform="translate(322.8 317.5)" font-size="7" text-anchor="middle" font-weight="normal" font-style="normal" fill="#141414">a</text>
<text transform="translate(360.3 204) scale(1.16 1)" font-size="10.3" text-anchor="start" font-weight="bold" font-style="normal" fill="#000" stroke="#000" stroke-width="0.25">F</text>
<rect x="378.8" y="209.4" width="13.1" height="8.4" fill="#0e5188"/>
<text transform="translate(396.3 215.9) scale(0.95 1)" font-size="8" text-anchor="start" font-weight="normal" font-style="italic" fill="#0a0a0a" stroke="#0a0a0a" stroke-width="0.18">Rnf217<tspan font-size="4.56" dy="-2.72" stroke-width="0.05">flox/flox</tspan></text>
<rect x="443.2" y="209.4" width="13.1" height="8.4" fill="#c32033"/>
<text transform="translate(461.6 215.9) scale(0.95 1)" font-size="8" text-anchor="start" font-weight="normal" font-style="italic" fill="#0a0a0a" stroke="#0a0a0a" stroke-width="0.18">Rnf217<tspan font-size="4.56" dy="-2.72" stroke-width="0.05">Lysm/Lysm</tspan></text>
<text transform="translate(425.4 234.6)" font-size="9.5" text-anchor="middle" font-weight="normal" font-style="normal" fill="#141414">Liver</text>
<text transform="translate(495.2 234.6)" font-size="9.5" text-anchor="middle" font-weight="normal" font-style="normal" fill="#141414">Spleen</text>
<line x1="405.3" y1="246.35" x2="405.3" y2="340.45" stroke="#000000" stroke-width="1.3" stroke-linecap="butt"/>
<line x1="401.3" y1="247" x2="405.3" y2="247" stroke="#000000" stroke-width="1.3" stroke-linecap="butt"/>
<text transform="translate(399.7 249.99) scale(1 1)" font-size="8.3" text-anchor="end" font-weight="normal" font-style="normal" fill="#141414">2500</text>
<line x1="401.3" y1="265.6" x2="405.3" y2="265.6" stroke="#000000" stroke-width="1.3" stroke-linecap="butt"/>
<text transform="translate(399.7 268.59) scale(1 1)" font-size="8.3" text-anchor="end" font-weight="normal" font-style="normal" fill="#141414">2000</text>
<line x1="401.3" y1="284.1" x2="405.3" y2="284.1" stroke="#000000" stroke-width="1.3" stroke-linecap="butt"/>
<text transform="translate(399.7 287.09) scale(1 1)" font-size="8.3" text-anchor="end" font-weight="normal" font-style="normal" fill="#141414">1500</text>
<line x1="401.3" y1="302.7" x2="405.3" y2="302.7" stroke="#000000" stroke-width="1.3" stroke-linecap="butt"/>
<text transform="translate(399.7 305.69) scale(1 1)" font-size="8.3" text-anchor="end" font-weight="normal" font-style="normal" fill="#141414">1000</text>
<line x1="401.3" y1="321.2" x2="405.3" y2="321.2" stroke="#000000" stroke-width="1.3" stroke-linecap="butt"/>
<text transform="translate(399.7 324.19) scale(1 1)" font-size="8.3" text-anchor="end" font-weight="normal" font-style="normal" fill="#141414">500</text>
<line x1="401.3" y1="339.8" x2="405.3" y2="339.8" stroke="#000000" stroke-width="1.3" stroke-linecap="butt"/>
<text transform="translate(399.7 342.79) scale(1 1)" font-size="8.3" text-anchor="end" font-weight="normal" font-style="normal" fill="#141414">0</text>
<text transform="translate(370.8 289.3) rotate(-90) scale(0.92 1)" font-size="8.6" text-anchor="middle" font-weight="normal" font-style="normal" fill="#141414">Non-heme iron (µg/g)</text>
<rect x="408.4" y="291.5" width="13.4" height="48.3" fill="#0e5188"/>
<rect x="426.4" y="303.3" width="14.3" height="36.5" fill="#c32033"/>
<line x1="404.65" y1="339.8" x2="447" y2="339.8" stroke="#000000" stroke-width="1.3" stroke-linecap="butt"/>
<line x1="415.1" y1="339.8" x2="415.1" y2="343.2" stroke="#000000" stroke-width="1.3" stroke-linecap="butt"/>
<line x1="432.9" y1="339.8" x2="432.9" y2="343.2" stroke="#000000" stroke-width="1.3" stroke-linecap="butt"/>
<line x1="415.3" y1="278" x2="415.3" y2="291.5" stroke="#000000" stroke-width="0.9" stroke-linecap="butt"/>
<line x1="412" y1="278" x2="418.6" y2="278" stroke="#000000" stroke-width="0.9" stroke-linecap="butt"/>
<line x1="433.5" y1="289.5" x2="433.5" y2="303.3" stroke="#000000" stroke-width="0.9" stroke-linecap="butt"/>
<line x1="430.2" y1="289.5" x2="436.8" y2="289.5" stroke="#000000" stroke-width="0.9" stroke-linecap="butt"/>
<circle cx="415" cy="265.8" r="2.05" fill="#2fb8ea" stroke="#07223a" stroke-width="0.9"/>
<circle cx="411.2" cy="294.3" r="2.05" fill="#2fb8ea" stroke="#07223a" stroke-width="0.9"/>
<circle cx="415" cy="291.8" r="2.05" fill="#2fb8ea" stroke="#07223a" stroke-width="0.9"/>
<circle cx="419.2" cy="292.4" r="2.05" fill="#2fb8ea" stroke="#07223a" stroke-width="0.9"/>
<circle cx="415" cy="298" r="2.05" fill="#2fb8ea" stroke="#07223a" stroke-width="0.9"/>
<circle cx="415" cy="306.2" r="2.05" fill="#2fb8ea" stroke="#07223a" stroke-width="0.9"/>
<rect x="427.3" y="289" width="4" height="4" fill="#2fb8ea" stroke="#07223a" stroke-width="0.9"/>
<rect x="431.2" y="289" width="4" height="4" fill="#2fb8ea" stroke="#07223a" stroke-width="0.9"/>
<rect x="435.2" y="288.5" width="4" height="4" fill="#2fb8ea" stroke="#07223a" stroke-width="0.9"/>
<rect x="428.2" y="305" width="4" height="4" fill="#2fb8ea" stroke="#07223a" stroke-width="0.9"/>
<rect x="434.3" y="306" width="4" height="4" fill="#2fb8ea" stroke="#07223a" stroke-width="0.9"/>
<rect x="427.3" y="310.3" width="4" height="4" fill="#2fb8ea" stroke="#07223a" stroke-width="0.9"/>
<rect x="431.6" y="312.2" width="4" height="4" fill="#2fb8ea" stroke="#07223a" stroke-width="0.9"/>
<rect x="435.8" y="311.2" width="4" height="4" fill="#2fb8ea" stroke="#07223a" stroke-width="0.9"/>
<line x1="413.7" y1="257.6" x2="440.7" y2="257.6" stroke="#000000" stroke-width="1.2" stroke-linecap="butt"/>
<text transform="translate(427.2 255.4)" font-size="7.5" text-anchor="middle" font-weight="normal" font-style="normal" fill="#141414">n.s.</text>
<line x1="475" y1="246.35" x2="475" y2="340.45" stroke="#000000" stroke-width="1.3" stroke-linecap="butt"/>
<line x1="471" y1="247" x2="475" y2="247" stroke="#000000" stroke-width="1.3" stroke-linecap="butt"/>
<text transform="translate(469.4 249.99) scale(1 1)" font-size="8.3" text-anchor="end" font-weight="normal" font-style="normal" fill="#141414">3000</text>
<line x1="471" y1="277.9" x2="475" y2="277.9" stroke="#000000" stroke-width="1.3" stroke-linecap="butt"/>
<text transform="translate(469.4 280.89) scale(1 1)" font-size="8.3" text-anchor="end" font-weight="normal" font-style="normal" fill="#141414">2000</text>
<line x1="471" y1="308.9" x2="475" y2="308.9" stroke="#000000" stroke-width="1.3" stroke-linecap="butt"/>
<text transform="translate(469.4 311.89) scale(1 1)" font-size="8.3" text-anchor="end" font-weight="normal" font-style="normal" fill="#141414">1000</text>
<line x1="471" y1="339.8" x2="475" y2="339.8" stroke="#000000" stroke-width="1.3" stroke-linecap="butt"/>
<text transform="translate(469.4 342.79) scale(1 1)" font-size="8.3" text-anchor="end" font-weight="normal" font-style="normal" fill="#141414">0</text>
<rect x="477.2" y="291.5" width="14.3" height="48.3" fill="#0e5188"/>
<rect x="495.6" y="318" width="14.4" height="21.8" fill="#c32033"/>
<line x1="474.35" y1="339.8" x2="513" y2="339.8" stroke="#000000" stroke-width="1.3" stroke-linecap="butt"/>
<line x1="484.3" y1="339.8" x2="484.3" y2="343.2" stroke="#000000" stroke-width="1.3" stroke-linecap="butt"/>
<line x1="502.8" y1="339.8" x2="502.8" y2="343.2" stroke="#000000" stroke-width="1.3" stroke-linecap="butt"/>
<line x1="484.3" y1="274" x2="484.3" y2="291.5" stroke="#000000" stroke-width="0.9" stroke-linecap="butt"/>
<line x1="481" y1="274" x2="487.6" y2="274" stroke="#000000" stroke-width="0.9" stroke-linecap="butt"/>
<line x1="502.8" y1="312.5" x2="502.8" y2="318" stroke="#000000" stroke-width="0.9" stroke-linecap="butt"/>
<line x1="499.5" y1="312.5" x2="506.1" y2="312.5" stroke="#000000" stroke-width="0.9" stroke-linecap="butt"/>
<circle cx="484.3" cy="263" r="2.05" fill="#2fb8ea" stroke="#07223a" stroke-width="0.9"/>
<circle cx="484.3" cy="284.5" r="2.05" fill="#2fb8ea" stroke="#07223a" stroke-width="0.9"/>
<circle cx="479.5" cy="291.5" r="2.05" fill="#2fb8ea" stroke="#07223a" stroke-width="0.9"/>
<circle cx="489" cy="292.5" r="2.05" fill="#2fb8ea" stroke="#07223a" stroke-width="0.9"/>
<circle cx="488.5" cy="308.5" r="2.05" fill="#2fb8ea" stroke="#07223a" stroke-width="0.9"/>
<circle cx="481.5" cy="313" r="2.05" fill="#2fb8ea" stroke="#07223a" stroke-width="0.9"/>
<rect x="501" y="308" width="4" height="4" fill="#2fb8ea" stroke="#07223a" stroke-width="0.9"/>
<rect x="505.5" y="311.5" width="4" height="4" fill="#2fb8ea" stroke="#07223a" stroke-width="0.9"/>
<rect x="497" y="314.5" width="4" height="4" fill="#2fb8ea" stroke="#07223a" stroke-width="0.9"/>
<rect x="504.5" y="316.5" width="4" height="4" fill="#2fb8ea" stroke="#07223a" stroke-width="0.9"/>
<rect x="498.5" y="318" width="4" height="4" fill="#2fb8ea" stroke="#07223a" stroke-width="0.9"/>
<rect x="503" y="320.5" width="4" height="4" fill="#2fb8ea" stroke="#07223a" stroke-width="0.9"/>
<rect x="498" y="324.5" width="4" height="4" fill="#2fb8ea" stroke="#07223a" stroke-width="0.9"/>
<line x1="482" y1="253.5" x2="508" y2="253.5" stroke="#000000" stroke-width="1.2" stroke-linecap="butt"/>
<text transform="translate(495 252.3)" font-size="9" text-anchor="middle" font-weight="normal" font-style="normal" fill="#141414">**</text>
<text transform="translate(7.5 367.2) scale(1.16 1)" font-size="10.3" text-anchor="start" font-weight="bold" font-style="normal" fill="#000" stroke="#000" stroke-width="0.25">G</text>
<text transform="translate(79.5 391.6)" font-size="9.2" text-anchor="middle" font-weight="normal" font-style="normal" fill="#141414">Saline</text>
<text transform="translate(159.5 391.6)" font-size="9.2" text-anchor="middle" font-weight="normal" font-style="normal" fill="#141414">Hepcidin</text>
<line x1="44.4" y1="397.2" x2="117.5" y2="397.2" stroke="#000000" stroke-width="1.3" stroke-linecap="butt"/>
<line x1="124.8" y1="397.2" x2="197.5" y2="397.2" stroke="#000000" stroke-width="1.3" stroke-linecap="butt"/>
<text transform="translate(63.4 453.6) rotate(-90) scale(0.84 1)" font-size="8.6" text-anchor="start" font-weight="normal" font-style="italic" fill="#0a0a0a" stroke="#0a0a0a" stroke-width="0.18">Rnf217<tspan font-size="5.6" dy="-3.2" stroke-width="0.05" letter-spacing="0.6">flox/flox</tspan></text>
<text transform="translate(99.8 453.6) rotate(-90) scale(0.84 1)" font-size="8.6" text-anchor="start" font-weight="normal" font-style="italic" fill="#0a0a0a" stroke="#0a0a0a" stroke-width="0.18">Rnf217<tspan font-size="5.6" dy="-3.2" stroke-width="0.05" letter-spacing="0.3">Lysm/Lysm</tspan></text>
<text transform="translate(137.4 453.6) rotate(-90) scale(0.84 1)" font-size="8.6" text-anchor="start" font-weight="normal" font-style="italic" fill="#0a0a0a" stroke="#0a0a0a" stroke-width="0.18">Rnf217<tspan font-size="5.6" dy="-3.2" stroke-width="0.05" letter-spacing="0.6">flox/flox</tspan></text>
<text transform="translate(173.6 453.6) rotate(-90) scale(0.84 1)" font-size="8.6" text-anchor="start" font-weight="normal" font-style="italic" fill="#0a0a0a" stroke="#0a0a0a" stroke-width="0.18">Rnf217<tspan font-size="5.6" dy="-3.2" stroke-width="0.05" letter-spacing="0.3">Lysm/Lysm</tspan></text>
<text transform="translate(200.8 456.5)" font-size="9.6" text-anchor="start" font-weight="normal" font-style="normal" fill="#141414">kD</text>
<text transform="translate(36.3 470.2)" font-size="8.3" text-anchor="end" font-weight="normal" font-style="normal" fill="#141414">FPN</text>
<text transform="translate(36.3 492.4)" font-size="8.3" text-anchor="end" font-weight="normal" font-style="normal" fill="#141414">GAPDH</text>
<line x1="196.8" y1="467.3" x2="199" y2="467.3" stroke="#000000" stroke-width="1" stroke-linecap="butt"/>
<text transform="translate(200.5 470.2)" font-size="8.3" text-anchor="start" font-weight="normal" font-style="normal" fill="#141414">70</text>
<line x1="196.8" y1="489.6" x2="199" y2="489.6" stroke="#000000" stroke-width="1" stroke-linecap="butt"/>
<text transform="translate(200.5 492.4)" font-size="8.3" text-anchor="start" font-weight="normal" font-style="normal" fill="#141414">35</text>
<clipPath id="bc3"><rect x="41" y="459.8" width="155" height="15.2"/></clipPath>
<g clip-path="url(#bc3)">
<rect x="41" y="459.8" width="155" height="15.2" fill="#a2a2a2"/>
<rect x="41" y="461" width="77" height="12" fill="#555555" opacity="0.55" filter="url(#b2)"/>
<rect x="153" y="461" width="46" height="12" fill="#555555" opacity="0.5" filter="url(#b2)"/>
<rect x="43.9" y="464.45" width="11.8" height="5.7" rx="2.85" ry="2.85" fill="#0c0c0c" opacity="0.64" filter="url(#b1)"/>
<rect x="56.35" y="462.55" width="11.8" height="9.5" rx="4.75" ry="4.75" fill="#0c0c0c" opacity="0.92" filter="url(#b1)"/>
<rect x="68.8" y="464.64" width="11.8" height="5.32" rx="2.66" ry="2.66" fill="#0c0c0c" opacity="0.39" filter="url(#b1)"/>
<rect x="81.25" y="464.26" width="11.8" height="6.08" rx="3.04" ry="3.04" fill="#0c0c0c" opacity="0.57" filter="url(#b1)"/>
<rect x="93.7" y="464.17" width="11.8" height="6.27" rx="3.13" ry="3.13" fill="#0c0c0c" opacity="0.63" filter="url(#b1)"/>
<rect x="106.15" y="462.74" width="11.8" height="9.12" rx="4.56" ry="4.56" fill="#0c0c0c" opacity="0.92" filter="url(#b1)"/>
<rect x="118.6" y="465.02" width="11.8" height="4.56" rx="2.28" ry="2.28" fill="#0c0c0c" opacity="0.17" filter="url(#b1)"/>
<rect x="131.05" y="464.83" width="11.8" height="4.94" rx="2.47" ry="2.47" fill="#0c0c0c" opacity="0.26" filter="url(#b1)"/>
<rect x="143.5" y="465.02" width="11.8" height="4.56" rx="2.28" ry="2.28" fill="#0c0c0c" opacity="0.18" filter="url(#b1)"/>
<rect x="155.95" y="463.98" width="11.8" height="6.65" rx="3.32" ry="3.32" fill="#0c0c0c" opacity="0.66" filter="url(#b1)"/>
<rect x="168.4" y="464.17" width="11.8" height="6.27" rx="3.13" ry="3.13" fill="#0c0c0c" opacity="0.61" filter="url(#b1)"/>
<rect x="180.85" y="463.6" width="11.8" height="7.41" rx="3.7" ry="3.7" fill="#0c0c0c" opacity="0.78" filter="url(#b1)"/>
</g>
<rect x="41" y="459.8" width="155" height="15.2" fill="none" stroke="#161616" stroke-width="1.2"/>
<clipPath id="bc4"><rect x="41" y="479.9" width="155" height="18"/></clipPath>
<g clip-path="url(#bc4)">
<rect x="41" y="479.9" width="155" height="18" fill="#a4a4a4"/>
<rect x="43.8" y="492" width="12" height="3.4" rx="1.7" ry="1.7" fill="#0c0c0c" opacity="0.92" filter="url(#bb)"/>
<rect x="56.25" y="490.6" width="12" height="3.4" rx="1.7" ry="1.7" fill="#0c0c0c" opacity="0.92" filter="url(#bb)"/>
<rect x="68.7" y="487" width="12" height="3.4" rx="1.7" ry="1.7" fill="#0c0c0c" opacity="0.92" filter="url(#bb)"/>
<rect x="81.15" y="486.3" width="12" height="3.4" rx="1.7" ry="1.7" fill="#0c0c0c" opacity="0.92" filter="url(#bb)"/>
<rect x="93.6" y="486.5" width="12" height="3.4" rx="1.7" ry="1.7" fill="#0c0c0c" opacity="0.92" filter="url(#bb)"/>
<rect x="106.05" y="485.5" width="12" height="3.4" rx="1.7" ry="1.7" fill="#0c0c0c" opacity="0.92" filter="url(#bb)"/>
<rect x="118.5" y="485.2" width="12" height="3.4" rx="1.7" ry="1.7" fill="#0c0c0c" opacity="0.92" filter="url(#bb)"/>
<rect x="130.95" y="485.5" width="12" height="3.4" rx="1.7" ry="1.7" fill="#0c0c0c" opacity="0.92" filter="url(#bb)"/>
<rect x="143.4" y="485.8" width="12" height="3.4" rx="1.7" ry="1.7" fill="#0c0c0c" opacity="0.92" filter="url(#bb)"/>
<rect x="155.85" y="486.2" width="12" height="3.4" rx="1.7" ry="1.7" fill="#0c0c0c" opacity="0.92" filter="url(#bb)"/>
<rect x="168.3" y="486.9" width="12" height="3.4" rx="1.7" ry="1.7" fill="#0c0c0c" opacity="0.92" filter="url(#bb)"/>
<rect x="180.75" y="488.2" width="12" height="3.4" rx="1.7" ry="1.7" fill="#0c0c0c" opacity="0.92" filter="url(#bb)"/>
</g>
<rect x="41" y="479.9" width="155" height="18" fill="none" stroke="#161616" stroke-width="1.2"/>
<text transform="translate(227.3 367.6) scale(1.16 1)" font-size="10.3" text-anchor="start" font-weight="bold" font-style="normal" fill="#000" stroke="#000" stroke-width="0.25">H</text>
<rect x="269.6" y="357.7" width="13.6" height="8.6" fill="#0e5188"/>
<rect x="269.6" y="369.8" width="13.6" height="8.5" fill="#c32033"/>
<text transform="translate(287.3 364.2) scale(0.95 1)" font-size="7.8" text-anchor="start" font-weight="normal" font-style="italic" fill="#0a0a0a" stroke="#0a0a0a" stroke-width="0.18">Rnf217<tspan font-size="4.45" dy="-2.65" stroke-width="0.05">flox/flox</tspan></text>
<text transform="translate(287.3 376.2) scale(0.95 1)" font-size="7.8" text-anchor="start" font-weight="normal" font-style="italic" fill="#0a0a0a" stroke="#0a0a0a" stroke-width="0.18">Rnf217<tspan font-size="4.45" dy="-2.65" stroke-width="0.05">Lysm/Lysm</tspan></text>
<line x1="268.1" y1="384.65" x2="268.1" y2="470.35" stroke="#000000" stroke-width="1.3" stroke-linecap="butt"/>
<line x1="264.3" y1="385.3" x2="268.1" y2="385.3" stroke="#000000" stroke-width="1.3" stroke-linecap="butt"/>
<text transform="translate(262.7 388.29) scale(1 1)" font-size="8.3" text-anchor="end" font-weight="normal" font-style="normal" fill="#141414">2.0</text>
<line x1="264.3" y1="406.4" x2="268.1" y2="406.4" stroke="#000000" stroke-width="1.3" stroke-linecap="butt"/>
<text transform="translate(262.7 409.39) scale(1 1)" font-size="8.3" text-anchor="end" font-weight="normal" font-style="normal" fill="#141414">1.5</text>
<line x1="264.3" y1="427.5" x2="268.1" y2="427.5" stroke="#000000" stroke-width="1.3" stroke-linecap="butt"/>
<text transform="translate(262.7 430.49) scale(1 1)" font-size="8.3" text-anchor="end" font-weight="normal" font-style="normal" fill="#141414">1.0</text>
<line x1="264.3" y1="448.6" x2="268.1" y2="448.6" stroke="#000000" stroke-width="1.3" stroke-linecap="butt"/>
<text transform="translate(262.7 451.59) scale(1 1)" font-size="8.3" text-anchor="end" font-weight="normal" font-style="normal" fill="#141414">0.5</text>
<line x1="264.3" y1="469.7" x2="268.1" y2="469.7" stroke="#000000" stroke-width="1.3" stroke-linecap="butt"/>
<text transform="translate(262.7 472.69) scale(1 1)" font-size="8.3" text-anchor="end" font-weight="normal" font-style="normal" fill="#141414">0</text>
<text transform="translate(233 426) rotate(-90) scale(0.9 1)" font-size="8.4" text-anchor="middle" font-weight="normal" font-style="normal" fill="#141414">FPN protein level</text>
<text transform="translate(245.8 426) rotate(-90) scale(0.9 1)" font-size="8.4" text-anchor="middle" font-weight="normal" font-style="normal" fill="#141414">(relative to GAPDH)</text>
<rect x="273.3" y="427.2" width="14" height="42.5" fill="#0e5188"/>
<rect x="292.4" y="419" width="14.2" height="50.7" fill="#c32033"/>
<rect x="311.7" y="449.6" width="13.9" height="20.1" fill="#0e5188"/>
<rect x="330.9" y="429" width="14" height="40.7" fill="#c32033"/>
<line x1="267.45" y1="469.7" x2="348.3" y2="469.7" stroke="#000000" stroke-width="1.3" stroke-linecap="butt"/>
<line x1="280.4" y1="469.7" x2="280.4" y2="473.3" stroke="#000000" stroke-width="1.3" stroke-linecap="butt"/>
<line x1="299.6" y1="469.7" x2="299.6" y2="473.3" stroke="#000000" stroke-width="1.3" stroke-linecap="butt"/>
<line x1="318.5" y1="469.7" x2="318.5" y2="473.3" stroke="#000000" stroke-width="1.3" stroke-linecap="butt"/>
<line x1="337.9" y1="469.7" x2="337.9" y2="473.3" stroke="#000000" stroke-width="1.3" stroke-linecap="butt"/>
<line x1="280.4" y1="419.8" x2="280.4" y2="427.5" stroke="#000000" stroke-width="1.1" stroke-linecap="butt"/>
<line x1="276.6" y1="419.8" x2="284.2" y2="419.8" stroke="#000000" stroke-width="1.1" stroke-linecap="butt"/>
<line x1="299.6" y1="413.8" x2="299.6" y2="419.6" stroke="#000000" stroke-width="1.1" stroke-linecap="butt"/>
<line x1="295.8" y1="413.8" x2="303.4" y2="413.8" stroke="#000000" stroke-width="1.1" stroke-linecap="butt"/>
<line x1="318.5" y1="448" x2="318.5" y2="449.7" stroke="#000000" stroke-width="1.1" stroke-linecap="butt"/>
<line x1="315.5" y1="448" x2="321.5" y2="448" stroke="#000000" stroke-width="1.1" stroke-linecap="butt"/>
<line x1="337.9" y1="425" x2="337.9" y2="429" stroke="#000000" stroke-width="1.1" stroke-linecap="butt"/>
<line x1="334.1" y1="425" x2="341.7" y2="425" stroke="#000000" stroke-width="1.1" stroke-linecap="butt"/>
<circle cx="278.7" cy="409.4" r="1.9" fill="#2fb8ea" stroke="#07223a" stroke-width="0.9"/>
<circle cx="282.5" cy="410.4" r="1.9" fill="#2fb8ea" stroke="#07223a" stroke-width="0.9"/>
<circle cx="276.8" cy="437.5" r="1.9" fill="#2fb8ea" stroke="#07223a" stroke-width="0.9"/>
<circle cx="280.6" cy="439.2" r="1.9" fill="#2fb8ea" stroke="#07223a" stroke-width="0.9"/>
<circle cx="284.4" cy="440.3" r="1.9" fill="#2fb8ea" stroke="#07223a" stroke-width="0.9"/>
<rect x="295.8" y="404.7" width="3.8" height="3.8" fill="#2fb8ea" stroke="#07223a" stroke-width="0.9"/>
<rect x="299.6" y="404.7" width="3.8" height="3.8" fill="#2fb8ea" stroke="#07223a" stroke-width="0.9"/>
<rect x="293.9" y="424.2" width="3.8" height="3.8" fill="#2fb8ea" stroke="#07223a" stroke-width="0.9"/>
<rect x="297.7" y="425.5" width="3.8" height="3.8" fill="#2fb8ea" stroke="#07223a" stroke-width="0.9"/>
<rect x="301.5" y="427.4" width="3.8" height="3.8" fill="#2fb8ea" stroke="#07223a" stroke-width="0.9"/>
<circle cx="314.8" cy="447.4" r="1.8" fill="#2fb8ea" stroke="#07223a" stroke-width="0.9"/>
<circle cx="318.4" cy="447" r="1.8" fill="#2fb8ea" stroke="#07223a" stroke-width="0.9"/>
<circle cx="317" cy="450.2" r="1.8" fill="#2fb8ea" stroke="#07223a" stroke-width="0.9"/>
<circle cx="319.9" cy="451.2" r="1.8" fill="#2fb8ea" stroke="#07223a" stroke-width="0.9"/>
<circle cx="322.3" cy="452.7" r="1.8" fill="#2fb8ea" stroke="#07223a" stroke-width="0.9"/>
<rect x="335.6" y="410.7" width="3.8" height="3.8" fill="#2fb8ea" stroke="#07223a" stroke-width="0.9"/>
<rect x="335.6" y="418.9" width="3.8" height="3.8" fill="#2fb8ea" stroke="#07223a" stroke-width="0.9"/>
<rect x="332.2" y="429.7" width="3.8" height="3.8" fill="#2fb8ea" stroke="#07223a" stroke-width="0.9"/>
<rect x="337.9" y="432.2" width="3.8" height="3.8" fill="#2fb8ea" stroke="#07223a" stroke-width="0.9"/>
<rect x="332.2" y="434.3" width="3.8" height="3.8" fill="#2fb8ea" stroke="#07223a" stroke-width="0.9"/>
<rect x="337.9" y="437.5" width="3.8" height="3.8" fill="#2fb8ea" stroke="#07223a" stroke-width="0.9"/>
<text transform="translate(267.4 483.2)" font-size="7.8" text-anchor="end" font-weight="normal" font-style="normal" fill="#141414">Saline</text>
<text transform="translate(267.4 496.6)" font-size="7.8" text-anchor="end" font-weight="normal" font-style="normal" fill="#141414">Hepcidin</text>
<text transform="translate(280.4 483)" font-size="8" text-anchor="middle" font-weight="normal" font-style="normal" fill="#141414">+</text>
<text transform="translate(299.6 483)" font-size="8" text-anchor="middle" font-weight="normal" font-style="normal" fill="#141414">+</text>
<text transform="translate(318.5 483)" font-size="8" text-anchor="middle" font-weight="normal" font-style="normal" fill="#141414">–</text>
<text transform="translate(337.9 483)" font-size="8" text-anchor="middle" font-weight="normal" font-style="normal" fill="#141414">–</text>
<text transform="translate(280.4 496.5)" font-size="8" text-anchor="middle" font-weight="normal" font-style="normal" fill="#141414">–</text>
<text transform="translate(299.6 496.5)" font-size="8" text-anchor="middle" font-weight="normal" font-style="normal" fill="#141414">–</text>
<text transform="translate(318.5 496.5)" font-size="8" text-anchor="middle" font-weight="normal" font-style="normal" fill="#141414">+</text>
<text transform="translate(337.9 496.5)" font-size="8" text-anchor="middle" font-weight="normal" font-style="normal" fill="#141414">+</text>
<text transform="translate(280.2 399.8)" font-size="7" text-anchor="middle" font-weight="normal" font-style="normal" fill="#141414">a</text>
<text transform="translate(301.3 399.8)" font-size="7" text-anchor="middle" font-weight="normal" font-style="normal" fill="#141414">a</text>
<text transform="translate(318.5 441)" font-size="7" text-anchor="middle" font-weight="normal" font-style="normal" fill="#141414">b</text>
<text transform="translate(337.9 406.3)" font-size="7" text-anchor="middle" font-weight="normal" font-style="normal" fill="#141414">a</text>
<text transform="translate(364.2 367.8) scale(1.16 1)" font-size="10.3" text-anchor="start" font-weight="bold" font-style="normal" fill="#000" stroke="#000" stroke-width="0.25">I</text>
<rect x="409.2" y="358" width="13.8" height="8.5" fill="#0e5188"/>
<rect x="409.2" y="370.2" width="13.8" height="8.2" fill="#c32033"/>
<text transform="translate(428.3 364.2) scale(0.95 1)" font-size="7.8" text-anchor="start" font-weight="normal" font-style="italic" fill="#0a0a0a" stroke="#0a0a0a" stroke-width="0.18">Rnf217<tspan font-size="4.45" dy="-2.65" stroke-width="0.05">flox/flox</tspan></text>
<text transform="translate(428.3 376) scale(0.95 1)" font-size="7.8" text-anchor="start" font-weight="normal" font-style="italic" fill="#0a0a0a" stroke="#0a0a0a" stroke-width="0.18">Rnf217<tspan font-size="4.45" dy="-2.65" stroke-width="0.05">Lysm/Lysm</tspan></text>
<line x1="405.9" y1="383.75" x2="405.9" y2="469.55" stroke="#000000" stroke-width="1.3" stroke-linecap="butt"/>
<line x1="401.9" y1="384.4" x2="405.9" y2="384.4" stroke="#000000" stroke-width="1.3" stroke-linecap="butt"/>
<text transform="translate(400.3 387.39) scale(1 1)" font-size="8.3" text-anchor="end" font-weight="normal" font-style="normal" fill="#141414">150</text>
<line x1="401.9" y1="412.6" x2="405.9" y2="412.6" stroke="#000000" stroke-width="1.3" stroke-linecap="butt"/>
<text transform="translate(400.3 415.59) scale(1 1)" font-size="8.3" text-anchor="end" font-weight="normal" font-style="normal" fill="#141414">100</text>
<line x1="401.9" y1="440.7" x2="405.9" y2="440.7" stroke="#000000" stroke-width="1.3" stroke-linecap="butt"/>
<text transform="translate(400.3 443.69) scale(1 1)" font-size="8.3" text-anchor="end" font-weight="normal" font-style="normal" fill="#141414">50</text>
<line x1="401.9" y1="468.9" x2="405.9" y2="468.9" stroke="#000000" stroke-width="1.3" stroke-linecap="butt"/>
<text transform="translate(400.3 471.89) scale(1 1)" font-size="8.3" text-anchor="end" font-weight="normal" font-style="normal" fill="#141414">0</text>
<text transform="translate(380 427) rotate(-90) scale(0.92 1)" font-size="8.6" text-anchor="middle" font-weight="normal" font-style="normal" fill="#141414">Serum iron (µg/dl)</text>
<rect x="411.1" y="405" width="13.9" height="63.9" fill="#0e5188"/>
<rect x="430.4" y="406" width="13.6" height="62.9" fill="#c32033"/>
<rect x="450" y="427.5" width="13.7" height="41.4" fill="#0e5188"/>
<rect x="469.2" y="407.5" width="13.8" height="61.4" fill="#c32033"/>
<line x1="405.25" y1="468.9" x2="485.5" y2="468.9" stroke="#000000" stroke-width="1.3" stroke-linecap="butt"/>
<line x1="417.5" y1="468.9" x2="417.5" y2="473.5" stroke="#000000" stroke-width="1.3" stroke-linecap="butt"/>
<line x1="437.3" y1="468.9" x2="437.3" y2="473.5" stroke="#000000" stroke-width="1.3" stroke-linecap="butt"/>
<line x1="456.8" y1="468.9" x2="456.8" y2="473.5" stroke="#000000" stroke-width="1.3" stroke-linecap="butt"/>
<line x1="476" y1="468.9" x2="476" y2="473.5" stroke="#000000" stroke-width="1.3" stroke-linecap="butt"/>
<line x1="417.5" y1="401.6" x2="417.5" y2="405" stroke="#000000" stroke-width="1.1" stroke-linecap="butt"/>
<line x1="413.9" y1="401.6" x2="421.1" y2="401.6" stroke="#000000" stroke-width="1.1" stroke-linecap="butt"/>
<line x1="437.3" y1="400.8" x2="437.3" y2="406" stroke="#000000" stroke-width="1.1" stroke-linecap="butt"/>
<line x1="433.9" y1="400.8" x2="440.7" y2="400.8" stroke="#000000" stroke-width="1.1" stroke-linecap="butt"/>
<line x1="456.8" y1="424.6" x2="456.8" y2="427.5" stroke="#000000" stroke-width="1.1" stroke-linecap="butt"/>
<line x1="453.6" y1="424.6" x2="460" y2="424.6" stroke="#000000" stroke-width="1.1" stroke-linecap="butt"/>
<line x1="476" y1="404" x2="476" y2="407.5" stroke="#000000" stroke-width="1.1" stroke-linecap="butt"/>
<line x1="472.6" y1="404" x2="479.4" y2="404" stroke="#000000" stroke-width="1.1" stroke-linecap="butt"/>
<circle cx="418.1" cy="395.9" r="2.05" fill="#2fb8ea" stroke="#07223a" stroke-width="0.9"/>
<circle cx="417.7" cy="402" r="2.05" fill="#2fb8ea" stroke="#07223a" stroke-width="0.9"/>
<circle cx="414.6" cy="412.7" r="2.05" fill="#2fb8ea" stroke="#07223a" stroke-width="0.9"/>
<circle cx="421" cy="410.7" r="2.05" fill="#2fb8ea" stroke="#07223a" stroke-width="0.9"/>
<rect x="435.4" y="386.3" width="4" height="4" fill="#2fb8ea" stroke="#07223a" stroke-width="0.9"/>
<rect x="432.3" y="401.4" width="4" height="4" fill="#2fb8ea" stroke="#07223a" stroke-width="0.9"/>
<rect x="438.5" y="405.2" width="4" height="4" fill="#2fb8ea" stroke="#07223a" stroke-width="0.9"/>
<rect x="438.3" y="412.4" width="4" height="4" fill="#2fb8ea" stroke="#07223a" stroke-width="0.9"/>
<rect x="432.3" y="415.4" width="4" height="4" fill="#2fb8ea" stroke="#07223a" stroke-width="0.9"/>
<circle cx="454" cy="420.6" r="2.05" fill="#2fb8ea" stroke="#07223a" stroke-width="0.9"/>
<circle cx="459.6" cy="424.6" r="2.05" fill="#2fb8ea" stroke="#07223a" stroke-width="0.9"/>
<circle cx="456.4" cy="426" r="2.05" fill="#2fb8ea" stroke="#07223a" stroke-width="0.9"/>
<circle cx="456.8" cy="431.6" r="2.05" fill="#2fb8ea" stroke="#07223a" stroke-width="0.9"/>
<circle cx="457" cy="439.8" r="2.05" fill="#2fb8ea" stroke="#07223a" stroke-width="0.9"/>
<rect x="468" y="401.2" width="4" height="4" fill="#2fb8ea" stroke="#07223a" stroke-width="0.9"/>
<rect x="477" y="399.4" width="4" height="4" fill="#2fb8ea" stroke="#07223a" stroke-width="0.9"/>
<rect x="471.4" y="403.8" width="4" height="4" fill="#2fb8ea" stroke="#07223a" stroke-width="0.9"/>
<rect x="477.4" y="408.8" width="4" height="4" fill="#2fb8ea" stroke="#07223a" stroke-width="0.9"/>
<rect x="474" y="416" width="4" height="4" fill="#2fb8ea" stroke="#07223a" stroke-width="0.9"/>
<text transform="translate(406 482.6)" font-size="7.8" text-anchor="end" font-weight="normal" font-style="normal" fill="#141414">Saline</text>
<text transform="translate(406 496.8)" font-size="7.8" text-anchor="end" font-weight="normal" font-style="normal" fill="#141414">Hepcidin</text>
<text transform="translate(417.5 482.5)" font-size="8" text-anchor="middle" font-weight="normal" font-style="normal" fill="#141414">+</text>
<text transform="translate(437.3 482.5)" font-size="8" text-anchor="middle" font-weight="normal" font-style="normal" fill="#141414">+</text>
<text transform="translate(456.8 482.5)" font-size="8" text-anchor="middle" font-weight="normal" font-style="normal" fill="#141414">–</text>
<text transform="translate(476 482.5)" font-size="8" text-anchor="middle" font-weight="normal" font-style="normal" fill="#141414">–</text>
<text transform="translate(417.5 496.8)" font-size="8" text-anchor="middle" font-weight="normal" font-style="normal" fill="#141414">–</text>
<text transform="translate(437.3 496.8)" font-size="8" text-anchor="middle" font-weight="normal" font-style="normal" fill="#141414">–</text>
<text transform="translate(456.8 496.8)" font-size="8" text-anchor="middle" font-weight="normal" font-style="normal" fill="#141414">+</text>
<text transform="translate(476 496.8)" font-size="8" text-anchor="middle" font-weight="normal" font-style="normal" fill="#141414">+</text>
<text transform="translate(417.5 383.5)" font-size="7" text-anchor="middle" font-weight="normal" font-style="normal" fill="#141414">a</text>
<text transform="translate(437.5 383.5)" font-size="7" text-anchor="middle" font-weight="normal" font-style="normal" fill="#141414">a</text>
<text transform="translate(456.3 412.5)" font-size="7" text-anchor="middle" font-weight="normal" font-style="normal" fill="#141414">b</text>
<text transform="translate(476.2 395.5)" font-size="7" text-anchor="middle" font-weight="normal" font-style="normal" fill="#141414">a</text>
<text transform="translate(6.3 522.8) scale(1.16 1)" font-size="10.3" text-anchor="start" font-weight="bold" font-style="normal" fill="#000" stroke="#000" stroke-width="0.25">J</text>
<rect x="47.7" y="513.8" width="13.4" height="8.4" fill="#0e5188"/>
<rect x="47.7" y="525.5" width="13.4" height="8.3" fill="#c32033"/>
<text transform="translate(64.6 520.2) scale(0.95 1)" font-size="7.8" text-anchor="start" font-weight="normal" font-style="italic" fill="#0a0a0a" stroke="#0a0a0a" stroke-width="0.18">Rnf217<tspan font-size="4.45" dy="-2.65" stroke-width="0.05">flox/flox</tspan></text>
<text transform="translate(64.6 531.9) scale(0.95 1)" font-size="7.8" text-anchor="start" font-weight="normal" font-style="italic" fill="#0a0a0a" stroke="#0a0a0a" stroke-width="0.18">Rnf217<tspan font-size="4.45" dy="-2.65" stroke-width="0.05">Lysm/Lysm</tspan></text>
<line x1="44" y1="540.65" x2="44" y2="625.55" stroke="#000000" stroke-width="1.3" stroke-linecap="butt"/>
<line x1="40.2" y1="541.3" x2="44" y2="541.3" stroke="#000000" stroke-width="1.3" stroke-linecap="butt"/>
<text transform="translate(38.6 544.29) scale(1 1)" font-size="8.3" text-anchor="end" font-weight="normal" font-style="normal" fill="#141414">100</text>
<line x1="40.2" y1="558" x2="44" y2="558" stroke="#000000" stroke-width="1.3" stroke-linecap="butt"/>
<text transform="translate(38.6 560.99) scale(1 1)" font-size="8.3" text-anchor="end" font-weight="normal" font-style="normal" fill="#141414">80</text>
<line x1="40.2" y1="574.7" x2="44" y2="574.7" stroke="#000000" stroke-width="1.3" stroke-linecap="butt"/>
<text transform="translate(38.6 577.69) scale(1 1)" font-size="8.3" text-anchor="end" font-weight="normal" font-style="normal" fill="#141414">60</text>
<line x1="40.2" y1="591.5" x2="44" y2="591.5" stroke="#000000" stroke-width="1.3" stroke-linecap="butt"/>
<text transform="translate(38.6 594.49) scale(1 1)" font-size="8.3" text-anchor="end" font-weight="normal" font-style="normal" fill="#141414">40</text>
<line x1="40.2" y1="608.2" x2="44" y2="608.2" stroke="#000000" stroke-width="1.3" stroke-linecap="butt"/>
<text transform="translate(38.6 611.19) scale(1 1)" font-size="8.3" text-anchor="end" font-weight="normal" font-style="normal" fill="#141414">20</text>
<line x1="40.2" y1="624.9" x2="44" y2="624.9" stroke="#000000" stroke-width="1.3" stroke-linecap="butt"/>
<text transform="translate(38.6 627.89) scale(1 1)" font-size="8.3" text-anchor="end" font-weight="normal" font-style="normal" fill="#141414">0</text>
<text transform="translate(15.3 581) rotate(-90) scale(0.92 1)" font-size="8.6" text-anchor="middle" font-weight="normal" font-style="normal" fill="#141414">Serum iron (µg/dl)</text>
<rect x="49.2" y="551.4" width="14.2" height="73.5" fill="#0e5188"/>
<rect x="68.2" y="555.4" width="14.2" height="69.5" fill="#c32033"/>
<rect x="89.8" y="604" width="14.2" height="20.9" fill="#0e5188"/>
<rect x="108.9" y="589.8" width="14.1" height="35.1" fill="#c32033"/>
<line x1="43.35" y1="624.9" x2="125.5" y2="624.9" stroke="#000000" stroke-width="1.3" stroke-linecap="butt"/>
<line x1="56.2" y1="624.9" x2="56.2" y2="628.5" stroke="#000000" stroke-width="1.3" stroke-linecap="butt"/>
<line x1="76.8" y1="624.9" x2="76.8" y2="628.5" stroke="#000000" stroke-width="1.3" stroke-linecap="butt"/>
<line x1="96.8" y1="624.9" x2="96.8" y2="628.5" stroke="#000000" stroke-width="1.3" stroke-linecap="butt"/>
<line x1="117.2" y1="624.9" x2="117.2" y2="628.5" stroke="#000000" stroke-width="1.3" stroke-linecap="butt"/>
<line x1="56.6" y1="548.8" x2="56.6" y2="551.4" stroke="#000000" stroke-width="1.1" stroke-linecap="butt"/>
<line x1="53.4" y1="548.8" x2="59.8" y2="548.8" stroke="#000000" stroke-width="1.1" stroke-linecap="butt"/>
<line x1="75.6" y1="552.2" x2="75.6" y2="555.4" stroke="#000000" stroke-width="1.1" stroke-linecap="butt"/>
<line x1="72.4" y1="552.2" x2="78.8" y2="552.2" stroke="#000000" stroke-width="1.1" stroke-linecap="butt"/>
<line x1="96.8" y1="601.6" x2="96.8" y2="604" stroke="#000000" stroke-width="1.1" stroke-linecap="butt"/>
<line x1="93.6" y1="601.6" x2="100" y2="601.6" stroke="#000000" stroke-width="1.1" stroke-linecap="butt"/>
<line x1="116.4" y1="587" x2="116.4" y2="589.8" stroke="#000000" stroke-width="1.1" stroke-linecap="butt"/>
<line x1="113.2" y1="587" x2="119.6" y2="587" stroke="#000000" stroke-width="1.1" stroke-linecap="butt"/>
<circle cx="53.8" cy="547.3" r="2.05" fill="#2fb8ea" stroke="#07223a" stroke-width="0.9"/>
<circle cx="60.2" cy="547.3" r="2.05" fill="#2fb8ea" stroke="#07223a" stroke-width="0.9"/>
<circle cx="53.8" cy="556.2" r="2.05" fill="#2fb8ea" stroke="#07223a" stroke-width="0.9"/>
<circle cx="59.1" cy="554.7" r="2.05" fill="#2fb8ea" stroke="#07223a" stroke-width="0.9"/>
<rect x="71.5" y="548.4" width="4" height="4" fill="#2fb8ea" stroke="#07223a" stroke-width="0.9"/>
<rect x="77.9" y="552.5" width="4" height="4" fill="#2fb8ea" stroke="#07223a" stroke-width="0.9"/>
<rect x="74.5" y="560.1" width="4" height="4" fill="#2fb8ea" stroke="#07223a" stroke-width="0.9"/>
<circle cx="97.2" cy="595.7" r="2.05" fill="#2fb8ea" stroke="#07223a" stroke-width="0.9"/>
<circle cx="93" cy="602.7" r="2.05" fill="#2fb8ea" stroke="#07223a" stroke-width="0.9"/>
<circle cx="101.4" cy="602.7" r="2.05" fill="#2fb8ea" stroke="#07223a" stroke-width="0.9"/>
<circle cx="100" cy="607" r="2.05" fill="#2fb8ea" stroke="#07223a" stroke-width="0.9"/>
<circle cx="93.6" cy="610.1" r="2.05" fill="#2fb8ea" stroke="#07223a" stroke-width="0.9"/>
<rect x="112.1" y="583.1" width="4" height="4" fill="#2fb8ea" stroke="#07223a" stroke-width="0.9"/>
<rect x="116.4" y="585.5" width="4" height="4" fill="#2fb8ea" stroke="#07223a" stroke-width="0.9"/>
<rect x="118.1" y="589.1" width="4" height="4" fill="#2fb8ea" stroke="#07223a" stroke-width="0.9"/>
<rect x="112.1" y="592.9" width="4" height="4" fill="#2fb8ea" stroke="#07223a" stroke-width="0.9"/>
<text transform="translate(47.3 637.2)" font-size="7.9" text-anchor="end" font-weight="normal" font-style="normal" fill="#141414">Saline</text>
<text transform="translate(47.3 650)" font-size="7.9" text-anchor="end" font-weight="normal" font-style="normal" fill="#141414">LPS</text>
<text transform="translate(56.2 637)" font-size="8" text-anchor="middle" font-weight="normal" font-style="normal" fill="#141414">+</text>
<text transform="translate(77.4 637)" font-size="8" text-anchor="middle" font-weight="normal" font-style="normal" fill="#141414">+</text>
<text transform="translate(96.9 637)" font-size="8" text-anchor="middle" font-weight="normal" font-style="normal" fill="#141414">–</text>
<text transform="translate(117.5 637)" font-size="8" text-anchor="middle" font-weight="normal" font-style="normal" fill="#141414">–</text>
<text transform="translate(56.2 650)" font-size="8" text-anchor="middle" font-weight="normal" font-style="normal" fill="#141414">–</text>
<text transform="translate(77.4 650)" font-size="8" text-anchor="middle" font-weight="normal" font-style="normal" fill="#141414">–</text>
<text transform="translate(96.9 650)" font-size="8" text-anchor="middle" font-weight="normal" font-style="normal" fill="#141414">+</text>
<text transform="translate(117.5 650)" font-size="8" text-anchor="middle" font-weight="normal" font-style="normal" fill="#141414">+</text>
<text transform="translate(58.3 540)" font-size="7" text-anchor="middle" font-weight="normal" font-style="normal" fill="#141414">a</text>
<text transform="translate(77.8 542.8)" font-size="7" text-anchor="middle" font-weight="normal" font-style="normal" fill="#141414">a</text>
<text transform="translate(97.8 588.5)" font-size="7" text-anchor="middle" font-weight="normal" font-style="normal" fill="#141414">b</text>
<text transform="translate(116.3 574.5)" font-size="7" text-anchor="middle" font-weight="normal" font-style="normal" fill="#141414">c</text>
<text transform="translate(141.5 522.8) scale(1.16 1)" font-size="10.3" text-anchor="start" font-weight="bold" font-style="normal" fill="#000" stroke="#000" stroke-width="0.25">K</text>
<text transform="translate(218.7 541.3)" font-size="9.2" text-anchor="middle" font-weight="normal" font-style="normal" fill="#141414">Saline</text>
<text transform="translate(290.3 541.3)" font-size="9.2" text-anchor="middle" font-weight="normal" font-style="normal" fill="#141414">LPS</text>
<line x1="180.3" y1="547.7" x2="253" y2="547.7" stroke="#000000" stroke-width="1.3" stroke-linecap="butt"/>
<line x1="260" y1="547.7" x2="332.5" y2="547.7" stroke="#000000" stroke-width="1.3" stroke-linecap="butt"/>
<text transform="translate(200.2 606) rotate(-90) scale(0.9 1)" font-size="9" text-anchor="start" font-weight="normal" font-style="italic" fill="#0a0a0a" stroke="#0a0a0a" stroke-width="0.18">Rnf217<tspan font-size="5.9" dy="-3.2" stroke-width="0.05" dx="0.8">flox/flox</tspan></text>
<text transform="translate(235.3 606) rotate(-90) scale(0.9 1)" font-size="9" text-anchor="start" font-weight="normal" font-style="italic" fill="#0a0a0a" stroke="#0a0a0a" stroke-width="0.18">Rnf217<tspan font-size="5.9" dy="-3.2" stroke-width="0.05" dx="0.8">Lysm/Lysm</tspan></text>
<text transform="translate(273.5 606) rotate(-90) scale(0.9 1)" font-size="9" text-anchor="start" font-weight="normal" font-style="italic" fill="#0a0a0a" stroke="#0a0a0a" stroke-width="0.18">Rnf217<tspan font-size="5.9" dy="-3.2" stroke-width="0.05" dx="0.8">flox/flox</tspan></text>
<text transform="translate(314 606) rotate(-90) scale(0.9 1)" font-size="9" text-anchor="start" font-weight="normal" font-style="italic" fill="#0a0a0a" stroke="#0a0a0a" stroke-width="0.18">Rnf217<tspan font-size="5.9" dy="-3.2" stroke-width="0.05" dx="0.8">Lysm/Lysm</tspan></text>
<text transform="translate(334.6 609.2)" font-size="9.8" text-anchor="start" font-weight="normal" font-style="normal" fill="#141414">kD</text>
<text transform="translate(172 622.3)" font-size="8.3" text-anchor="end" font-weight="normal" font-style="normal" fill="#141414">FPN</text>
<text transform="translate(171.8 641.6)" font-size="8.3" text-anchor="end" font-weight="normal" font-style="normal" fill="#141414">GAPDH</text>
<line x1="330.6" y1="618.3" x2="332.6" y2="618.3" stroke="#000000" stroke-width="1" stroke-linecap="butt"/>
<text transform="translate(333.6 621.4)" font-size="8.6" text-anchor="start" font-weight="normal" font-style="normal" fill="#141414">70</text>
<line x1="330.6" y1="640.6" x2="332.6" y2="640.6" stroke="#000000" stroke-width="1" stroke-linecap="butt"/>
<text transform="translate(333.6 643.7)" font-size="8.6" text-anchor="start" font-weight="normal" font-style="normal" fill="#141414">35</text>
<clipPath id="bc5"><rect x="176.3" y="610.4" width="154.5" height="15.8"/></clipPath>
<g clip-path="url(#bc5)">
<rect x="176.3" y="610.4" width="154.5" height="15.8" fill="#6a6a6a"/>
<rect x="176.3" y="614" width="154.5" height="9" fill="#4e4e4e" opacity="0.55" filter="url(#b1)"/>
<rect x="254.4" y="614.2" width="11" height="6" fill="#c4c4c4" opacity="0.4" filter="url(#b1)"/>
<rect x="267.4" y="613.8" width="11" height="6" fill="#c4c4c4" opacity="0.6" filter="url(#b1)"/>
<rect x="280.4" y="614.2" width="11" height="6" fill="#c4c4c4" opacity="0.38" filter="url(#b1)"/>
<rect x="293.4" y="614" width="11" height="6" fill="#c4c4c4" opacity="0.1" filter="url(#b1)"/>
<rect x="177.6" y="609" width="2" height="18" fill="#b8b8b8" opacity="0.6" filter="url(#b05)"/>
<rect x="190.4" y="609" width="2" height="18" fill="#b8b8b8" opacity="0.6" filter="url(#b05)"/>
<rect x="203" y="609" width="2" height="18" fill="#b8b8b8" opacity="0.6" filter="url(#b05)"/>
<rect x="215.1" y="609" width="2" height="18" fill="#b8b8b8" opacity="0.6" filter="url(#b05)"/>
<rect x="227.2" y="609" width="2" height="18" fill="#b8b8b8" opacity="0.6" filter="url(#b05)"/>
<rect x="240.2" y="609" width="2" height="18" fill="#b8b8b8" opacity="0.6" filter="url(#b05)"/>
<rect x="252.4" y="609" width="2" height="18" fill="#b8b8b8" opacity="0.6" filter="url(#b05)"/>
<rect x="265.4" y="609" width="2" height="18" fill="#b8b8b8" opacity="0.6" filter="url(#b05)"/>
<rect x="278.4" y="609" width="2" height="18" fill="#b8b8b8" opacity="0.6" filter="url(#b05)"/>
<rect x="291.4" y="609" width="2" height="18" fill="#b8b8b8" opacity="0.6" filter="url(#b05)"/>
<rect x="304.4" y="609" width="2" height="18" fill="#b8b8b8" opacity="0.6" filter="url(#b05)"/>
<rect x="317" y="609" width="2" height="18" fill="#b8b8b8" opacity="0.6" filter="url(#b05)"/>
<rect x="329" y="609" width="2" height="18" fill="#b8b8b8" opacity="0.6" filter="url(#b05)"/>
</g>
<rect x="176.3" y="610.4" width="154.5" height="15.8" fill="none" stroke="#161616" stroke-width="1.2"/>
<clipPath id="bc6"><rect x="176.3" y="630" width="154.5" height="16.8"/></clipPath>
<g clip-path="url(#bc6)">
<rect x="176.3" y="630" width="154.5" height="16.8" fill="#7c7c7c"/>
<rect x="177.6" y="637.1" width="11.2" height="4.6" rx="2.3" ry="2.3" fill="#0c0c0c" opacity="1" filter="url(#bb)"/>
<rect x="190.6" y="636.7" width="11.2" height="4.6" rx="2.3" ry="2.3" fill="#0c0c0c" opacity="1" filter="url(#bb)"/>
<rect x="204.4" y="636.2" width="9.6" height="3.6" rx="1.8" ry="1.8" fill="#0c0c0c" opacity="1" filter="url(#bb)"/>
<rect x="216.8" y="634.3" width="10.8" height="4.4" rx="2.2" ry="2.2" fill="#0c0c0c" opacity="1" filter="url(#bb)"/>
<rect x="229.2" y="634.2" width="10.8" height="4.6" rx="2.3" ry="2.3" fill="#0c0c0c" opacity="1" filter="url(#bb)"/>
<rect x="241.5" y="633.6" width="11.6" height="5.2" rx="2.6" ry="2.6" fill="#0c0c0c" opacity="1" filter="url(#bb)"/>
<rect x="253.7" y="633.8" width="11.6" height="5.4" rx="2.7" ry="2.7" fill="#0c0c0c" opacity="1" filter="url(#bb)"/>
<rect x="267.6" y="634" width="11.6" height="5.6" rx="2.8" ry="2.8" fill="#0c0c0c" opacity="1" filter="url(#bb)"/>
<rect x="279.7" y="634.5" width="11.6" height="5.6" rx="2.8" ry="2.8" fill="#0c0c0c" opacity="1" filter="url(#bb)"/>
<rect x="291.6" y="634.9" width="12" height="6" rx="3" ry="3" fill="#0c0c0c" opacity="1" filter="url(#bb)"/>
<rect x="304.4" y="635.9" width="12.4" height="6.4" rx="3.2" ry="3.2" fill="#0c0c0c" opacity="1" filter="url(#bb)"/>
<rect x="318.2" y="636.9" width="12.4" height="6.6" rx="3.3" ry="3.3" fill="#0c0c0c" opacity="1" filter="url(#bb)"/>
</g>
<rect x="176.3" y="630" width="154.5" height="16.8" fill="none" stroke="#161616" stroke-width="1.2"/>
<text transform="translate(362.8 523.2) scale(1.16 1)" font-size="10.3" text-anchor="start" font-weight="bold" font-style="normal" fill="#000" stroke="#000" stroke-width="0.25">L</text>
<rect x="411" y="513.7" width="13.5" height="8.5" fill="#0e5188"/>
<rect x="411" y="527.8" width="13.5" height="8.8" fill="#c32033"/>
<text transform="translate(429.4 519.8) scale(0.95 1)" font-size="7.8" text-anchor="start" font-weight="normal" font-style="italic" fill="#0a0a0a" stroke="#0a0a0a" stroke-width="0.18">Rnf217<tspan font-size="4.45" dy="-2.65" stroke-width="0.05">flox/flox</tspan></text>
<text transform="translate(429.4 534.5) scale(0.95 1)" font-size="7.8" text-anchor="start" font-weight="normal" font-style="italic" fill="#0a0a0a" stroke="#0a0a0a" stroke-width="0.18">Rnf217<tspan font-size="4.45" dy="-2.65" stroke-width="0.05">Lysm/Lysm</tspan></text>
<line x1="405.2" y1="538.25" x2="405.2" y2="625.35" stroke="#000000" stroke-width="1.3" stroke-linecap="butt"/>
<line x1="400.6" y1="538.9" x2="405.2" y2="538.9" stroke="#000000" stroke-width="1.3" stroke-linecap="butt"/>
<text transform="translate(399 541.89) scale(1 1)" font-size="8.3" text-anchor="end" font-weight="normal" font-style="normal" fill="#141414">1.5</text>
<line x1="400.6" y1="567.5" x2="405.2" y2="567.5" stroke="#000000" stroke-width="1.3" stroke-linecap="butt"/>
<text transform="translate(399 570.49) scale(1 1)" font-size="8.3" text-anchor="end" font-weight="normal" font-style="normal" fill="#141414">1.0</text>
<line x1="400.6" y1="596.1" x2="405.2" y2="596.1" stroke="#000000" stroke-width="1.3" stroke-linecap="butt"/>
<text transform="translate(399 599.09) scale(1 1)" font-size="8.3" text-anchor="end" font-weight="normal" font-style="normal" fill="#141414">0.5</text>
<line x1="400.6" y1="624.7" x2="405.2" y2="624.7" stroke="#000000" stroke-width="1.3" stroke-linecap="butt"/>
<text transform="translate(399 627.69) scale(1 1)" font-size="8.3" text-anchor="end" font-weight="normal" font-style="normal" fill="#141414">0</text>
<text transform="translate(370.6 584.3) rotate(-90) scale(0.89 1)" font-size="8.4" text-anchor="middle" font-weight="normal" font-style="normal" fill="#141414">FPN protein level</text>
<text transform="translate(383 584) rotate(-90) scale(0.89 1)" font-size="8.4" text-anchor="middle" font-weight="normal" font-style="normal" fill="#141414">(relative to GAPDH)</text>
<rect x="410.8" y="567" width="14.4" height="57.7" fill="#0e5188"/>
<rect x="430.5" y="565" width="14.2" height="59.7" fill="#c32033"/>
<rect x="451.6" y="602.5" width="14.4" height="22.2" fill="#0e5188"/>
<rect x="470.7" y="581.8" width="14.2" height="42.9" fill="#c32033"/>
<line x1="404.55" y1="624.7" x2="490.6" y2="624.7" stroke="#000000" stroke-width="1.3" stroke-linecap="butt"/>
<line x1="417.8" y1="624.7" x2="417.8" y2="628.5" stroke="#000000" stroke-width="1.3" stroke-linecap="butt"/>
<line x1="439.6" y1="624.7" x2="439.6" y2="628.5" stroke="#000000" stroke-width="1.3" stroke-linecap="butt"/>
<line x1="458.4" y1="624.7" x2="458.4" y2="628.5" stroke="#000000" stroke-width="1.3" stroke-linecap="butt"/>
<line x1="478.7" y1="624.7" x2="478.7" y2="628.5" stroke="#000000" stroke-width="1.3" stroke-linecap="butt"/>
<line x1="418" y1="561" x2="418" y2="567" stroke="#000000" stroke-width="1.1" stroke-linecap="butt"/>
<line x1="414.6" y1="561" x2="421.4" y2="561" stroke="#000000" stroke-width="1.1" stroke-linecap="butt"/>
<line x1="437.6" y1="560.4" x2="437.6" y2="565" stroke="#000000" stroke-width="1.1" stroke-linecap="butt"/>
<line x1="434.2" y1="560.4" x2="441" y2="560.4" stroke="#000000" stroke-width="1.1" stroke-linecap="butt"/>
<line x1="458.8" y1="599.3" x2="458.8" y2="602.5" stroke="#000000" stroke-width="1.1" stroke-linecap="butt"/>
<line x1="455.4" y1="599.3" x2="462.2" y2="599.3" stroke="#000000" stroke-width="1.1" stroke-linecap="butt"/>
<line x1="477.8" y1="578" x2="477.8" y2="581.8" stroke="#000000" stroke-width="1.1" stroke-linecap="butt"/>
<line x1="474.4" y1="578" x2="481.2" y2="578" stroke="#000000" stroke-width="1.1" stroke-linecap="butt"/>
<circle cx="414.6" cy="555.4" r="2.05" fill="#2fb8ea" stroke="#07223a" stroke-width="0.9"/>
<circle cx="421.4" cy="560.7" r="2.05" fill="#2fb8ea" stroke="#07223a" stroke-width="0.9"/>
<circle cx="417.8" cy="570.2" r="2.05" fill="#2fb8ea" stroke="#07223a" stroke-width="0.9"/>
<circle cx="417.8" cy="580.8" r="2.05" fill="#2fb8ea" stroke="#07223a" stroke-width="0.9"/>
<rect x="433.1" y="555.5" width="4" height="4" fill="#2fb8ea" stroke="#07223a" stroke-width="0.9"/>
<rect x="439.7" y="558.7" width="4" height="4" fill="#2fb8ea" stroke="#07223a" stroke-width="0.9"/>
<rect x="435.9" y="565.7" width="4" height="4" fill="#2fb8ea" stroke="#07223a" stroke-width="0.9"/>
<rect x="435.9" y="577.7" width="4" height="4" fill="#2fb8ea" stroke="#07223a" stroke-width="0.9"/>
<circle cx="458.4" cy="594.5" r="2.05" fill="#2fb8ea" stroke="#07223a" stroke-width="0.9"/>
<circle cx="454.8" cy="599.4" r="2.05" fill="#2fb8ea" stroke="#07223a" stroke-width="0.9"/>
<circle cx="463.3" cy="603" r="2.05" fill="#2fb8ea" stroke="#07223a" stroke-width="0.9"/>
<circle cx="456.9" cy="604.5" r="2.05" fill="#2fb8ea" stroke="#07223a" stroke-width="0.9"/>
<circle cx="461.6" cy="610.4" r="2.05" fill="#2fb8ea" stroke="#07223a" stroke-width="0.9"/>
<rect x="477.6" y="567.6" width="4" height="4" fill="#2fb8ea" stroke="#07223a" stroke-width="0.9"/>
<rect x="473.3" y="576.2" width="4" height="4" fill="#2fb8ea" stroke="#07223a" stroke-width="0.9"/>
<rect x="477.1" y="579.4" width="4" height="4" fill="#2fb8ea" stroke="#07223a" stroke-width="0.9"/>
<rect x="481.4" y="579.8" width="4" height="4" fill="#2fb8ea" stroke="#07223a" stroke-width="0.9"/>
<rect x="475" y="584.1" width="4" height="4" fill="#2fb8ea" stroke="#07223a" stroke-width="0.9"/>
<rect x="478.8" y="588.7" width="4" height="4" fill="#2fb8ea" stroke="#07223a" stroke-width="0.9"/>
<text transform="translate(407.4 635.4)" font-size="7.9" text-anchor="end" font-weight="normal" font-style="normal" fill="#141414">Saline</text>
<text transform="translate(407.4 650)" font-size="7.9" text-anchor="end" font-weight="normal" font-style="normal" fill="#141414">LPS</text>
<text transform="translate(417.8 636.2)" font-size="8" text-anchor="middle" font-weight="normal" font-style="normal" fill="#141414">+</text>
<text transform="translate(439.6 636.2)" font-size="8" text-anchor="middle" font-weight="normal" font-style="normal" fill="#141414">+</text>
<text transform="translate(458.4 636.2)" font-size="8" text-anchor="middle" font-weight="normal" font-style="normal" fill="#141414">–</text>
<text transform="translate(478.7 636.2)" font-size="8" text-anchor="middle" font-weight="normal" font-style="normal" fill="#141414">–</text>
<text transform="translate(417.8 649.6)" font-size="8" text-anchor="middle" font-weight="normal" font-style="normal" fill="#141414">–</text>
<text transform="translate(439.6 649.6)" font-size="8" text-anchor="middle" font-weight="normal" font-style="normal" fill="#141414">–</text>
<text transform="translate(458.4 649.6)" font-size="8" text-anchor="middle" font-weight="normal" font-style="normal" fill="#141414">+</text>
<text transform="translate(478.7 649.6)" font-size="8" text-anchor="middle" font-weight="normal" font-style="normal" fill="#141414">+</text>
<text transform="translate(418.2 551.2)" font-size="7" text-anchor="middle" font-weight="normal" font-style="normal" fill="#141414">a</text>
<text transform="translate(437.5 551.2)" font-size="7" text-anchor="middle" font-weight="normal" font-style="normal" fill="#141414">a</text>
<text transform="translate(458.4 588.4)" font-size="7" text-anchor="middle" font-weight="normal" font-style="normal" fill="#141414">b</text>
<text transform="translate(478.1 562.8)" font-size="7" text-anchor="middle" font-weight="normal" font-style="normal" fill="#141414">c</text>
<rect x="0" y="0" width="520" height="1.3" fill="#000"/>
<rect x="0" y="0" width="1.2" height="658" fill="#000"/>
<rect x="0" y="656.1" width="520" height="1.9" fill="#000"/>
<rect x="518.8" y="0" width="1.2" height="658" fill="#000"/>
</svg>
</body></html>
